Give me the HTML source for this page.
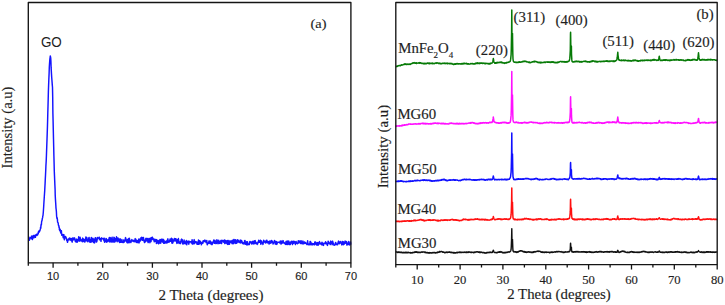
<!DOCTYPE html>
<html><head><meta charset="utf-8"><style>
html,body{margin:0;padding:0;background:#fff;}
body{width:725px;height:305px;overflow:hidden;}
svg{display:block;}
text{stroke:#1e1e1e;stroke-width:0.15px;}
.serif{font-family:"Liberation Serif",serif;}
.sans{font-family:"Liberation Sans",sans-serif;}
</style></head><body>
<svg width="725" height="305" viewBox="0 0 725 305">
<rect width="725" height="305" fill="#fff"/>
<path d="M28.5 237.3L28.8 237L29.1 238.3L29.4 240.2L29.7 238.6L30 239L30.3 237.9L30.6 237.7L30.9 237.6L31.2 237.3L31.5 236.1L31.8 238.8L32.1 237L32.4 239.5L32.7 237.9L33 235.7L33.3 236.2L33.6 235.5L33.9 237.8L34.2 235.4L34.5 236.5L34.8 235.8L35.1 235.3L35.4 237.3L35.7 235.6L36 234.9L36.2 234.4L36.4 234.6L36.6 234.2L36.8 235.3L37 235.4L37.2 234.8L37.5 234.9L37.7 234.8L37.9 234.1L38.1 232.7L38.3 233.5L38.5 231.5L38.7 232.3L38.9 231.1L39.1 232.1L39.3 231.7L39.5 230.5L39.7 230.8L39.9 230.9L40.1 229.9L40.4 228.7L40.6 227.2L40.8 228.2L41 225.1L41.2 224.3L41.4 224.8L41.6 221.8L41.8 221L42 220.7L42.2 219.4L42.4 218.2L42.6 217.7L42.8 216L43 215.5L43.3 212.2L43.5 209.2L43.7 206.2L43.9 202.7L44.1 199.8L44.3 196.7L44.5 193.7L44.7 190.9L44.9 186.9L45.1 183.4L45.3 178.9L45.5 175.3L45.7 171L45.9 166.2L46.2 161L46.4 156.2L46.6 150.5L46.8 145L47 139.6L47.2 133.9L47.4 128L47.6 120.9L47.8 113.1L48 106.2L48.2 98.9L48.4 91L48.6 85.4L48.8 80.2L49.1 73.4L49.3 67.2L49.5 64L49.7 61.2L49.9 58.9L50.1 57.6L50.3 55.9L50.5 56.8L50.7 57.8L50.9 61L51.1 67.4L51.3 70.8L51.5 74.1L51.7 77.3L51.9 79.8L52.1 82.4L52.3 85.1L52.5 87.2L52.7 96.8L52.9 113.4L53.1 121.5L53.3 130L53.5 138.8L53.7 147.1L53.9 155.8L54.1 163.5L54.3 171.3L54.5 175.9L54.7 180.6L54.9 185.2L55.1 189.8L55.2 194.6L55.4 198.6L55.6 201.6L55.8 204.7L56 208.1L56.2 209.7L56.4 211.7L56.6 216.1L56.8 217.5L57 218.5L57.2 217.8L57.4 219.1L57.6 222.3L57.8 222.3L58 222.6L58.2 223.2L58.4 225.1L58.6 225.4L58.8 225.6L59 227.5L59.2 227L59.4 229.6L59.6 228.4L59.8 230.8L60 229.6L60.3 229.7L60.7 233L61 232.2L61.4 230.8L61.7 235.3L62.1 234.4L62.5 235.1L62.8 234.6L63.2 237.7L63.5 237.1L63.9 234.6L64.3 239.7L64.6 238.5L65 237.4L65.3 236.4L65.7 236.8L66.1 237.6L66.4 238.7L66.8 240.5L67.1 239.2L67.5 242.3L67.9 240.6L68.2 239.9L68.6 239.6L68.9 238.4L69.3 239.9L69.7 238L70 238.4L70.4 239.5L70.7 240.2L71.1 238.6L71.5 240.8L71.8 238.9L72.2 242.1L72.5 237.9L72.9 240.3L73.3 239.1L73.6 239.7L74 237.8L74.3 239.1L74.7 238.2L75.1 240.9L75.4 241.4L75.8 241.4L76.1 242.1L76.5 239.1L76.9 240.5L77.2 242.2L77.6 239.5L77.9 239.6L78.3 240.3L78.7 236.8L79 241.3L79.4 238.9L79.7 240.8L80.1 237.3L80.5 239.3L80.8 239.7L81.2 240.9L81.5 239.9L81.9 240L82.3 241.7L82.6 238.1L83 239.1L83.3 241.5L83.7 239.1L84.1 239.9L84.4 239.4L84.8 242.1L85.1 240.4L85.5 241L85.9 236.9L86.2 238.9L86.6 240.8L86.9 237.6L87.3 241L87.7 241.8L88 240.9L88.4 240.7L88.7 238.3L89.1 237.4L89.5 242L89.8 239.2L90.2 242L90.5 240.7L90.9 242.3L91.3 237.4L91.6 241.7L92 241.4L92.3 240.5L92.7 238.3L93.1 238.5L93.4 242.5L93.8 239.6L94.1 241.6L94.5 242.9L94.9 238.7L95.2 237.9L95.6 237.7L95.9 239.9L96.3 242.1L96.7 241.9L97 240.7L97.4 237.5L97.7 238.7L98.1 238.1L98.5 238.1L98.8 237.9L99.2 237.2L99.5 239.8L99.9 238.9L100.3 238.9L100.6 238.4L101 241.3L101.3 238.6L101.7 237.8L102.1 238.6L102.4 238.4L102.8 239L103.1 239.2L103.5 238.5L103.9 240.7L104.2 238.1L104.6 242.3L104.9 242.1L105.3 240L105.7 241.3L106 238.4L106.4 238.8L106.7 242.2L107.1 239.8L107.5 241.2L107.8 241.6L108.2 240.9L108.5 239.6L108.9 239.2L109.3 237.5L109.6 241.9L110 241L110.3 237.6L110.7 241.8L111.1 238.8L111.4 242L111.8 238.1L112.1 237.3L112.5 241.9L112.9 242L113.2 239.7L113.6 241.9L113.9 237.3L114.3 237.6L114.7 242.1L115 241.8L115.4 240.5L115.7 238.6L116.1 240.7L116.5 236.8L116.8 238.9L117.2 241.7L117.5 238.4L117.9 237.9L118.3 240L118.6 241L119 239.1L119.3 241.9L119.7 242.5L120.1 238.8L120.4 239.8L120.8 242.3L121.1 240.6L121.5 241.9L121.9 239.5L122.2 242.3L122.6 242.4L122.9 242.1L123.3 242.6L123.7 239.9L124 240.5L124.4 242L124.7 241.5L125.1 240.4L125.5 237.6L125.8 238.5L126.2 239.8L126.5 241.4L126.9 242.3L127.3 242.8L127.6 239.5L128 242.8L128.3 239.6L128.7 238.6L129.1 242.8L129.4 238.3L129.8 240.4L130.1 242.1L130.5 241.3L130.9 242.5L131.2 240.8L131.6 240.2L131.9 239.6L132.3 241.1L132.7 240.8L133 240.4L133.4 241.4L133.7 240.4L134.1 241.4L134.5 240.3L134.8 241.7L135.2 238.6L135.5 239.5L135.9 239.2L136.3 242.3L136.6 240.7L137 242.6L137.3 240.5L137.7 242.6L138.1 241.5L138.4 242.4L138.8 239.1L139.1 242.9L139.5 239.1L139.9 241.5L140.2 240.8L140.6 239.3L140.9 237.9L141.3 237.6L141.7 237.3L142 240.3L142.4 240.3L142.7 237.9L143.1 237.5L143.5 237.5L143.8 240.6L144.2 241.6L144.5 242.5L144.9 240.3L145.3 241.8L145.6 239.1L146 238.2L146.3 241.1L146.7 239.7L147.1 240.1L147.4 238.5L147.8 241.6L148.1 242.6L148.5 241.7L148.9 238.4L149.2 239L149.6 238.5L149.9 242.7L150.3 239.4L150.7 238L151 241.6L151.4 238.3L151.7 237.5L152.1 239.1L152.5 237.3L152.8 239.6L153.2 239.5L153.5 238.9L153.9 240.3L154.3 241.7L154.6 239.4L155 239.2L155.3 241.3L155.7 240.3L156.1 239.6L156.4 243.5L156.8 239.7L157.1 240.8L157.5 240.4L157.9 243.2L158.2 242.5L158.6 243.8L158.9 240.4L159.3 243.3L159.7 242.4L160 239.4L160.4 240.1L160.7 243.2L161.1 240.9L161.5 239.4L161.8 239.2L162.2 240.1L162.5 242.1L162.9 239.3L163.3 239.5L163.6 243.3L164 240.1L164.3 242.4L164.7 243.3L165.1 242.9L165.4 242.3L165.8 241.3L166.1 242.7L166.5 240.9L166.9 243L167.2 242.6L167.6 239.4L167.9 238.8L168.3 242.3L168.7 241.2L169 241.8L169.4 242L169.7 240.8L170.1 239L170.5 241.3L170.8 239.7L171.2 240.7L171.5 238.2L171.9 243.1L172.3 239L172.6 243.2L173 242.2L173.3 240.1L173.7 241.1L174.1 239.4L174.4 238.4L174.8 240.9L175.1 238.7L175.5 239.3L175.9 238.7L176.2 241.3L176.6 241.9L176.9 243.4L177.3 239.7L177.7 242.7L178 241.4L178.4 238.5L178.7 240.3L179.1 243.5L179.5 242.3L179.8 242L180.2 242.2L180.5 243.6L180.9 241.5L181.3 239.5L181.6 239.1L182 241.8L182.3 239.8L182.7 243.8L183.1 244.1L183.4 242L183.8 242.3L184.1 240L184.5 243.6L184.9 241.8L185.2 243.5L185.6 242L185.9 243.9L186.3 240.5L186.7 244.8L187 243.4L187.4 241.6L187.7 241.9L188.1 240.9L188.5 242.3L188.8 244.2L189.2 242L189.5 241.3L189.9 241.9L190.3 241.7L190.6 241.7L191 242.2L191.3 243.1L191.7 243.1L192.1 239.7L192.4 244.1L192.8 241.2L193.1 241.6L193.5 242L193.9 243.9L194.2 239.6L194.6 243.5L194.9 242.7L195.3 242.1L195.7 241.5L196 242.2L196.4 243L196.7 241.9L197.1 244.3L197.5 242.6L197.8 242.1L198.2 244.3L198.5 240L198.9 244.3L199.3 242.3L199.6 240.7L200 243.4L200.3 241.2L200.7 242.4L201.1 242.7L201.4 244.8L201.8 243.4L202.1 242.2L202.5 243.2L202.9 243.2L203.2 240.7L203.6 241.9L203.9 240.8L204.3 240.5L204.7 241.5L205 240.1L205.4 240.8L205.7 240.8L206.1 242.5L206.5 242L206.8 240.5L207.2 244.7L207.5 243.5L207.9 243.2L208.3 243L208.6 243.4L209 240.9L209.3 243.4L209.7 241.7L210.1 240.9L210.4 241.3L210.8 243.9L211.1 241.9L211.5 244.1L211.9 244.7L212.2 244.4L212.6 242.2L212.9 242.5L213.3 242.6L213.7 240.1L214 243.1L214.4 243.2L214.7 240.2L215.1 240.8L215.5 242.2L215.8 243.6L216.2 240.9L216.5 243.4L216.9 239.7L217.3 242.1L217.6 241L218 243.7L218.3 240.7L218.7 240.3L219.1 241.7L219.4 243.4L219.8 243.3L220.1 241.4L220.5 243.1L220.9 240.4L221.2 241.7L221.6 243.5L221.9 240.2L222.3 240.6L222.7 241.1L223 240.5L223.4 242L223.7 241.5L224.1 242.4L224.5 239.9L224.8 243.6L225.2 241.8L225.5 240.4L225.9 243L226.3 241L226.6 241.2L227 243.7L227.3 240.5L227.7 244.4L228.1 241.2L228.4 242.8L228.8 240.5L229.1 244.4L229.5 244.1L229.9 242.7L230.2 240.9L230.6 241.3L230.9 242.2L231.3 240.9L231.7 242.2L232 243.6L232.4 240.2L232.7 240.7L233.1 243.8L233.5 243.2L233.8 239.5L234.2 239.7L234.5 242.1L234.9 242.9L235.3 243.5L235.6 239.8L236 241.4L236.3 241.6L236.7 243.2L237.1 241.7L237.4 239.8L237.8 240L238.1 241.9L238.5 240.5L238.9 242.2L239.2 242.5L239.6 242.2L239.9 242.5L240.3 240.1L240.7 243L241 240.2L241.4 242.2L241.7 240.7L242.1 241.8L242.5 243.5L242.8 243.7L243.2 243.9L243.5 243.1L243.9 242.5L244.3 243.7L244.6 240.6L245 240.5L245.3 244.3L245.7 243.6L246.1 242.5L246.4 241.8L246.8 244.9L247.1 241.7L247.5 241.9L247.9 244.8L248.2 243.9L248.6 244.3L248.9 244.5L249.3 244.6L249.7 242.1L250 241.4L250.4 242.7L250.7 242L251.1 241.8L251.5 242.8L251.8 244.1L252.2 242.7L252.5 241.8L252.9 241.2L253.3 243.9L253.6 243.1L254 241.3L254.3 243.7L254.7 240.7L255.1 240.6L255.4 241.5L255.8 243.5L256.1 242.4L256.5 243.1L256.9 244L257.2 244.4L257.6 243.8L257.9 242.1L258.3 242.6L258.7 240.3L259 240.7L259.4 242.2L259.7 241.7L260.1 242.5L260.5 240.3L260.8 244.3L261.2 242.3L261.5 241L261.9 242.9L262.3 242.7L262.6 243.2L263 244.4L263.3 242.1L263.7 240.3L264.1 241.2L264.4 242.1L264.8 241.4L265.1 242.4L265.5 243L265.9 242.5L266.2 240.4L266.6 240.3L266.9 240.2L267.3 242.9L267.7 241.7L268 242.2L268.4 241.6L268.7 242.9L269.1 244.1L269.5 242.6L269.8 240.9L270.2 243.2L270.5 241.1L270.9 243.1L271.3 242.7L271.6 240.4L272 241.2L272.3 241.3L272.7 242L273.1 244.1L273.4 243.3L273.8 242.3L274.1 242L274.5 240.4L274.9 241.2L275.2 244L275.6 242L275.9 241.6L276.3 244.4L276.7 241.6L277 244L277.4 242.4L277.7 242.4L278.1 242.3L278.5 242.1L278.8 242.1L279.2 242.2L279.5 242.9L279.9 242.8L280.3 241L280.6 242.4L281 244.1L281.3 243.7L281.7 241.1L282.1 241.3L282.4 243L282.8 243L283.1 240.6L283.5 241.7L283.9 242.6L284.2 243.3L284.6 242.9L284.9 243.3L285.3 244.3L285.7 244.4L286 241.6L286.4 244.4L286.7 241.7L287.1 240.9L287.5 244L287.8 244.6L288.2 241.2L288.5 243.9L288.9 241.1L289.3 244.5L289.6 242.6L290 242.7L290.3 244.5L290.7 242L291.1 243L291.4 241.2L291.8 241.6L292.1 243.1L292.5 244.6L292.9 242.5L293.2 241.1L293.6 242L293.9 243.2L294.3 241.4L294.7 241.7L295 242L295.4 244.5L295.7 242.8L296.1 241.5L296.5 243.1L296.8 243.2L297.2 243.3L297.5 243.7L297.9 242.9L298.3 240.7L298.6 242.9L299 242.9L299.3 242.4L299.7 240.9L300.1 241.1L300.4 242.9L300.8 243.5L301.1 240.7L301.5 243.6L301.9 242.3L302.2 243.1L302.6 243.8L302.9 241L303.3 243.7L303.7 243.8L304 242.7L304.4 241.9L304.7 243.2L305.1 243.2L305.5 242.5L305.8 242.9L306.2 243.7L306.5 243.9L306.9 244.5L307.3 244.6L307.6 240.7L308 244.3L308.3 244.2L308.7 244.7L309.1 243.9L309.4 244.5L309.8 244.8L310.1 241.4L310.5 241.4L310.9 243.3L311.2 244.8L311.6 243.3L311.9 243.3L312.3 244.8L312.7 243.8L313 244.8L313.4 243.9L313.7 243.6L314.1 243.6L314.5 244.8L314.8 242L315.2 242.9L315.5 241.9L315.9 244.2L316.3 243.1L316.6 245L317 242.7L317.3 245.1L317.7 242.6L318.1 245.2L318.4 245L318.8 242.5L319.1 243.5L319.5 241.6L319.9 243.9L320.2 244.1L320.6 243.3L320.9 243.2L321.3 243.5L321.7 244.7L322 242.3L322.4 244.9L322.7 244.4L323.1 243.1L323.5 245.4L323.8 243.8L324.2 243.5L324.5 243.5L324.9 242.8L325.3 243.5L325.6 241.7L326 243.8L326.3 242.7L326.7 244L327.1 243.8L327.4 245.4L327.8 244.3L328.1 241.3L328.5 241.8L328.9 243.2L329.2 243.3L329.6 242.9L329.9 243.9L330.3 244.6L330.7 241.1L331 243.3L331.4 241.9L331.7 242.3L332.1 244.7L332.5 241.1L332.8 241.8L333.2 243.1L333.5 244.2L333.9 245.1L334.3 245.2L334.6 245.1L335 244.5L335.3 243.2L335.7 242.4L336.1 244.7L336.4 244.2L336.8 244L337.1 244.2L337.5 244.7L337.9 243.2L338.2 242.1L338.6 241.1L338.9 242.1L339.3 243.8L339.7 242.7L340 242L340.4 241.8L340.7 241.4L341.1 243.5L341.5 243.8L341.8 244.9L342.2 244.1L342.5 241.5L342.9 241.7L343.3 244.7L343.6 241.9L344 242.9L344.3 244L344.7 243.4L345.1 241L345.4 242.8L345.8 243.1L346.1 243.3L346.5 241.6L346.9 245.1L347.2 243.3L347.6 244.1L347.9 244.4L348.3 242.4L348.7 241.4L349 243.7L349.4 244.9L349.7 244.8L350.1 244.7L350.5 241.9L350.8 244.6" fill="none" stroke="#1414ff" stroke-width="1.45" stroke-linejoin="round"/>
<rect x="28.3" y="2.5" width="322.6" height="260.3" fill="none" stroke="#141414" stroke-width="1.35" stroke-linejoin="round"/>
<path d="M28.3 262.8 V265.8M53.1 262.8 V267.8M77.9 262.8 V265.8M102.7 262.8 V267.8M127.6 262.8 V265.8M152.4 262.8 V267.8M177.2 262.8 V265.8M202 262.8 V267.8M226.8 262.8 V265.8M251.6 262.8 V267.8M276.5 262.8 V265.8M301.3 262.8 V267.8M326.1 262.8 V265.8M350.9 262.8 V267.8" stroke="#141414" stroke-width="1.3" fill="none"/>
<path d="M395.8 66.6L396.1 66.7L396.3 66.6L396.6 66.2L396.8 66.2L397.1 66.5L397.3 65.9L397.6 66.3L397.8 66.2L398.1 65.9L398.3 65.8L398.6 65.7L398.8 65.6L399.1 65.6L399.3 65.6L399.6 65.6L399.8 65.8L400.1 65.6L400.3 65.5L400.6 65.7L400.8 65.1L401.1 65L401.3 65.2L401.6 64.8L401.8 64.8L402.1 65L402.3 64.9L402.6 65.1L402.8 64.9L403.1 64.7L403.3 64.6L403.6 64.4L403.8 64.2L404.1 64.2L404.3 64.5L404.6 64.1L404.8 64.2L405.1 63.9L405.3 64.4L405.6 64L405.8 64L406.1 64.4L406.3 64.1L406.6 64.4L406.8 64.3L407.1 64.4L407.3 64L407.6 64.2L407.8 64.3L408.1 64.5L408.3 64.2L408.6 64.3L408.8 64L409.1 64.2L409.3 64.1L409.6 64L409.8 64.4L410.1 64.1L410.3 64.4L410.6 64.1L410.8 64L411.1 63.9L411.3 63.8L411.6 63.4L411.8 63.5L412.1 63.2L412.3 63.3L412.6 63L412.8 63.4L413.1 62.8L413.3 63L413.6 62.8L413.8 63.1L414.1 63L414.3 62.6L414.6 63.1L414.8 63.2L415.1 63.2L415.3 63L415.6 62.8L415.8 62.9L416.1 63.4L416.3 63.1L416.6 62.9L416.8 63.4L417.1 63.2L417.3 63.2L417.6 63L417.8 63L418.1 62.9L418.3 62.7L418.6 63.2L418.8 62.9L419.1 63L419.3 62.8L419.6 63.1L419.8 62.6L420.1 62.9L420.3 62.7L420.6 62.8L420.8 63.3L421.1 63.2L421.3 63.1L421.6 63.2L421.8 63.4L422.1 63.2L422.3 63.4L422.6 63.5L422.8 63.3L423.1 63.4L423.3 63.6L423.6 63.8L423.8 63.4L424.1 63.9L424.3 63.3L424.6 63.8L424.8 63.8L425.1 63.4L425.3 63.5L425.6 63.8L425.8 63.2L426.1 63.6L426.3 63.7L426.6 63.4L426.8 63.5L427.1 63.1L427.3 63.1L427.6 63.2L427.8 63L428.1 63.1L428.3 63.5L428.6 63.3L428.8 63.1L429.1 63.1L429.3 63.6L429.6 63.2L429.8 63.6L430.1 63.3L430.3 63.3L430.6 63.5L430.8 63.4L431.1 63.3L431.3 63.2L431.6 63.5L431.8 63.2L432.1 63.6L432.3 63L432.6 63.3L432.8 63.4L433.1 63.7L433.3 63.3L433.6 63.6L433.8 63.6L434.1 63.6L434.3 63.5L434.6 63.7L434.8 63.3L435.1 63.2L435.3 63.1L435.6 62.9L435.8 63L436.1 63.4L436.3 63.3L436.6 62.8L436.8 63.1L437.1 63L437.3 63.1L437.6 63.1L437.8 62.9L438.1 63.4L438.3 63.2L438.6 63.3L438.8 63.4L439.1 63.2L439.3 63.1L439.6 63.4L439.8 63.6L440.1 63.7L440.3 63.6L440.6 63.3L440.8 63.8L441.1 63.7L441.3 63.8L441.6 63.5L441.8 63.8L442.1 63.2L442.3 63.2L442.6 63.2L442.8 63.3L443.1 63.3L443.3 63.3L443.6 63.5L443.8 63.2L444.1 63.5L444.3 63.2L444.6 63.5L444.8 63.1L445.1 63.2L445.3 63.6L445.6 63.3L445.8 63.5L446.1 63.4L446.3 63.4L446.6 63.2L446.8 63.4L447.1 63.1L447.3 63.6L447.6 63.8L447.8 63.7L448.1 63.3L448.3 63.5L448.6 63.5L448.8 63.4L449.1 63.7L449.3 63.8L449.6 63.4L449.8 63.8L450.1 63.7L450.3 63.3L450.6 63.7L450.8 63.8L451.1 63.4L451.3 63.7L451.6 63.8L451.8 63.9L452.1 63.6L452.3 64L452.6 64.1L452.8 64.3L453.1 64.4L453.3 64.1L453.6 64.4L453.8 64.5L454.1 64.5L454.3 64.1L454.6 63.9L454.8 64.3L455.1 63.9L455.3 64.1L455.6 64.3L455.8 63.9L456.1 63.7L456.3 63.8L456.6 63.9L456.8 63.5L457.1 63.7L457.3 63.5L457.6 63.9L457.8 64L458.1 63.7L458.3 63.7L458.6 63.9L458.8 63.7L459.1 63.7L459.3 63.8L459.6 63.9L459.8 63.7L460.1 64.1L460.3 64L460.6 63.8L460.8 63.7L461.1 64.1L461.3 63.7L461.6 63.6L461.8 63.6L462.1 63.6L462.3 64L462.6 63.6L462.8 63.6L463.1 63.9L463.3 63.7L463.6 63.3L463.8 63.5L464.1 63.7L464.3 63.4L464.6 63.6L464.8 63.2L465.1 63.6L465.3 63.6L465.6 63.7L465.8 63.6L466.1 63.5L466.3 63.3L466.6 63.7L466.8 63.9L467.1 63.6L467.3 63.7L467.6 63.9L467.8 64.1L468.1 64.2L468.3 63.7L468.6 63.8L468.8 64.1L469.1 64L469.3 64L469.6 64.2L469.8 64.1L470.1 64L470.3 63.9L470.6 63.6L470.8 63.7L471.1 63.5L471.3 63.8L471.6 63.8L471.8 63.8L472.1 63.6L472.3 63.6L472.6 63.7L472.8 63.5L473.1 64L473.3 63.9L473.6 63.8L473.8 63.9L474.1 64L474.3 63.7L474.6 64L474.8 64L475.1 63.6L475.3 63.4L475.6 63.7L475.8 63.7L476.1 63.1L476.3 63.4L476.6 63.4L476.8 63.5L477.1 63L477.3 62.9L477.6 63.5L477.8 63L478.1 63L478.3 63.3L478.6 63.3L478.8 63.5L479.1 63.1L479.3 63.6L479.6 63.1L479.8 63.5L480.1 63L480.3 63.2L480.6 62.9L480.8 63L481.1 63L481.3 63.3L481.6 63.1L481.8 62.8L482.1 63.4L482.3 63.4L482.6 63.5L482.8 63.1L483.1 63.2L483.3 63.2L483.6 63.1L483.8 63.1L484.1 63.4L484.3 63.2L484.6 63.3L484.8 63.7L485.1 63.5L485.3 63.3L485.6 63.6L485.8 63.3L486.1 63.5L486.3 63.3L486.6 63.5L486.8 63.6L487.1 63.5L487.3 63.4L487.6 63.7L487.8 63.8L488.1 63.4L488.3 63.4L488.6 63.4L488.8 64L489.1 64L489.3 63.5L489.6 64L489.8 63.5L490.1 63.6L490.3 63.6L490.6 63.8L490.8 63.1L491.1 63.2L491.3 63.3L491.6 62.9L491.8 62.9L492.1 62.9L492.3 62.9L492.6 62.3L492.8 61.5L493.1 60.1L493.3 58.5L493.6 60L493.8 61.4L494.1 62.3L494.3 62.5L494.6 62.6L494.8 63.1L495.1 62.7L495.3 63.2L495.6 63L495.8 62.8L496.1 63.2L496.3 62.6L496.6 62.8L496.8 62.5L497.1 63L497.3 62.6L497.6 62.7L497.8 62.3L498.1 62.6L498.3 62.5L498.6 62.4L498.8 62.6L499.1 62.2L499.3 62.2L499.6 62.4L499.8 62.5L500.1 62.2L500.3 62.4L500.6 62.1L500.8 62.4L501.1 62.5L501.3 62.1L501.6 62.6L501.8 62.2L502.1 62.9L502.3 62.6L502.6 62.6L502.8 62.9L503.1 62.9L503.3 63L503.6 62.7L503.8 63.1L504.1 63.1L504.3 63.4L504.6 62.8L504.8 63.1L505.1 63.2L505.3 63.1L505.6 62.7L505.8 63L506.1 62.7L506.3 62.6L506.6 62.9L506.8 62.4L507.1 62.5L507.3 62.6L507.6 62.5L507.8 62.3L508.1 62.4L508.3 62.1L508.6 62.1L508.8 62.2L509.1 62.1L509.3 62L509.6 61.8L509.8 61.7L510.1 61.3L510.3 61L510.6 59.7L510.8 57.8L511.1 54.8L511.3 48.9L511.6 32.7L511.8 10L511.8 12.7L512 41.7L512.3 48.2L512.5 33.6L512.5 35.5L512.8 53.3L513 59L513.3 61L513.5 61.5L513.8 61.8L514 62.1L514.3 62.2L514.5 62.2L514.8 62.1L515 62L515.3 62.1L515.5 62.2L515.8 62.3L516 62.6L516.3 62.2L516.5 62.3L516.8 62.2L517 62.4L517.3 62.6L517.5 62.5L517.8 62.2L518 62.1L518.3 62.4L518.5 62.2L518.8 62.2L519 61.8L519.3 62.3L519.5 61.9L519.8 62L520 61.8L520.3 62L520.5 62.2L520.8 62.2L521 62L521.3 62.1L521.5 61.9L521.8 61.8L522 61.9L522.3 61.6L522.5 61.6L522.8 61.8L523 61.8L523.3 61.2L523.5 61.6L523.8 61.6L524 61.3L524.3 61.1L524.5 61.4L524.8 61.2L525 61.4L525.3 61.3L525.5 61.5L525.8 61.3L526 61.5L526.3 61.6L526.5 61.8L526.8 61.5L527 62.1L527.3 61.8L527.5 61.9L527.8 61.9L528 61.9L528.3 62.1L528.5 62.4L528.8 62.4L529 62.1L529.3 62.1L529.5 62.3L529.8 62.6L530 62.4L530.3 62.7L530.5 62.5L530.8 62.5L531 62.5L531.3 62.4L531.5 62.1L531.8 62L532 62.1L532.3 62L532.5 61.8L532.8 61.9L533 62L533.3 61.6L533.5 61.5L533.8 61.5L534 61.5L534.3 61.9L534.5 61.3L534.8 61.4L535 61.4L535.3 61.6L535.5 61.3L535.8 61.6L536 61.5L536.3 61.6L536.5 62L536.8 61.7L537 62L537.3 62L537.5 62.1L537.8 62.4L538 62.1L538.3 62.6L538.5 62.7L538.8 62.5L539 62.2L539.3 62.6L539.5 62.6L539.8 62.8L540 62.4L540.3 62.9L540.5 62.9L540.8 62.3L541 62.4L541.3 62.2L541.5 62.7L541.8 62.8L542 62.8L542.3 62.5L542.5 62.5L542.8 62.5L543 62.4L543.3 62.6L543.5 62.4L543.8 62.2L544 62.3L544.3 62L544.5 62.4L544.8 62.4L545 62.2L545.3 62.4L545.5 62.4L545.8 62.1L546 61.9L546.3 61.9L546.5 61.9L546.8 61.9L547 62L547.3 62.3L547.5 61.9L547.8 62.2L548 62.1L548.3 62.2L548.5 62L548.8 61.8L549 62.3L549.3 62L549.5 62L549.8 62.4L550 62.3L550.3 62L550.5 62L550.8 62.5L551 62L551.3 62.3L551.5 61.9L551.8 62.3L552 61.8L552.3 62.1L552.5 61.8L552.8 62.1L553 62.3L553.3 61.9L553.5 62.1L553.8 62.4L554 62.4L554.3 62.3L554.5 62.5L554.8 62.4L555 62.8L555.3 62.4L555.5 62.7L555.8 62.7L556 62.8L556.3 62.5L556.5 62.7L556.8 62.7L557 62.4L557.3 62.2L557.5 62.7L557.8 62.5L558 62.1L558.3 62.4L558.5 62L558.8 62.1L559 62.3L559.3 61.9L559.5 61.8L559.8 61.7L560 61.6L560.3 61.6L560.5 61.6L560.8 61.5L561 61.5L561.3 61.7L561.5 61.5L561.8 61.9L562 62L562.3 61.6L562.5 61.8L562.8 61.7L563 61.5L563.3 61.6L563.5 62L563.8 61.8L564 62L564.3 61.6L564.5 62L564.8 62.2L565 62.2L565.3 61.7L565.5 62L565.8 61.9L566 62.1L566.3 61.6L566.5 61.7L566.8 62L567 61.8L567.3 61.7L567.5 62L567.8 61.5L568 61.3L568.3 61.4L568.5 61.2L568.8 61L569 61.1L569.3 60.8L569.5 59.8L569.8 58.4L570 55.7L570.3 50.2L570.5 33.7L570.6 32.2L570.8 45.1L571 54.5L571.3 46.6L571.4 45.9L571.5 54.1L571.8 59.4L572 61.1L572.3 61.8L572.5 61.6L572.8 61.9L573 62.1L573.3 61.9L573.5 61.8L573.8 61.8L574 61.9L574.3 61.9L574.5 61.8L574.8 61.4L575 61.8L575.3 61.8L575.5 61.2L575.8 61.3L576 61.2L576.3 61.6L576.5 61.7L576.8 61.1L577 61.3L577.3 61.2L577.5 61.4L577.8 61.7L578 61.2L578.3 61.3L578.5 61.5L578.8 61.6L579 61.8L579.3 61.6L579.5 61.4L579.8 61.6L580 62.1L580.3 61.9L580.5 61.6L580.8 62L581 61.8L581.3 62L581.5 61.6L581.8 62.1L582 61.6L582.3 61.8L582.5 61.8L582.8 61.7L583 61.5L583.3 61.4L583.5 61.4L583.8 61.3L584 61.3L584.3 61.3L584.5 61.4L584.8 61.3L585 61.5L585.3 61.3L585.5 61.1L585.8 61.4L586 61.7L586.3 61.4L586.5 61.5L586.8 61.8L587 61.6L587.3 61.9L587.5 62L587.8 61.7L588 62L588.3 61.7L588.5 61.7L588.8 61.9L589 62L589.3 62.2L589.5 61.6L589.8 62L590 61.8L590.3 61.5L590.5 61.9L590.8 61.7L591 61.3L591.3 61.7L591.5 61.1L591.8 61L592 61.1L592.3 61.4L592.5 60.8L592.8 61.3L593 61.1L593.3 60.8L593.5 61.1L593.8 61.1L594 61.2L594.3 61.3L594.5 61.3L594.8 61.6L595 61.1L595.3 61.6L595.5 61.4L595.8 61.7L596 61.8L596.3 61.9L596.5 61.4L596.8 61.6L597 61.9L597.3 61.9L597.5 61.5L597.8 61.9L598 61.5L598.3 61.5L598.5 61.7L598.8 61.5L599 61.5L599.3 61.4L599.5 61.5L599.8 61.3L600 61.2L600.3 61.7L600.5 61.6L600.8 61.7L601 61.7L601.3 61.4L601.5 61.3L601.8 61.4L602 61.4L602.3 61.6L602.5 61.4L602.8 61.3L603 61.5L603.3 61.2L603.5 61.1L603.8 61.5L604 61.5L604.3 61.2L604.5 61.4L604.8 61L605 61.2L605.3 61.3L605.5 61.1L605.8 61.1L606 61.3L606.3 61.2L606.5 60.9L606.8 61.2L607 60.8L607.3 61.4L607.5 60.9L607.8 61L608 61L608.3 61.5L608.5 61.1L608.8 61.3L609 61.6L609.3 61.5L609.5 61L609.8 61.3L610 61.4L610.3 61.4L610.5 61.1L610.8 61.1L611 60.9L611.3 60.9L611.5 61.2L611.8 60.9L612 61L612.3 61.1L612.5 60.9L612.8 60.9L613 61.5L613.3 61.2L613.5 61.1L613.8 61.4L614 60.9L614.3 61.1L614.5 61.5L614.8 61.4L615 61.2L615.3 60.8L615.5 60.9L615.8 60.6L616 60.6L616.3 60.3L616.5 60.2L616.8 60L617 58.8L617.3 57.2L617.5 55L617.8 52.3L618 55L618.3 57L618.5 59L618.8 59.8L619 60.1L619.3 60.2L619.5 60L619.8 60.1L620 60.3L620.3 60.6L620.5 60.5L620.8 60.4L621 60.3L621.3 60.1L621.5 60.6L621.8 60.1L622 60.1L622.3 60.5L622.5 60.6L622.8 60.5L623 60.3L623.3 60.1L623.5 60.1L623.8 60.6L624 60.7L624.3 60.2L624.5 60.6L624.8 60.3L625 60.3L625.3 60.4L625.5 60.1L625.8 60.4L626 60.3L626.3 60.6L626.5 60.5L626.8 60.7L627 60.8L627.3 60.4L627.5 60.4L627.8 60.9L628 60.6L628.3 60.4L628.5 60.3L628.8 61L629 60.8L629.3 60.5L629.5 60.8L629.8 60.8L630 60.8L630.3 61.1L630.5 61.1L630.8 60.6L631 60.7L631.3 60.8L631.5 61.1L631.8 60.9L632 60.9L632.3 60.8L632.5 60.5L632.8 60.8L633 60.2L633.3 60.6L633.5 60.2L633.8 60.4L634 60.7L634.3 60.4L634.5 60.1L634.8 60.3L635 60.4L635.3 60.1L635.5 60.3L635.8 60.2L636 60.6L636.3 60.5L636.5 60.7L636.8 60.6L637 60.9L637.3 60.6L637.5 61.1L637.8 61.2L638 60.9L638.3 60.9L638.5 61.2L638.8 60.7L639 61.1L639.3 60.7L639.5 60.9L639.8 60.7L640 60.8L640.3 60.9L640.5 60.3L640.8 60.8L641 60.6L641.3 60.5L641.5 60.4L641.8 60.2L642 60.3L642.3 60.6L642.5 60.2L642.8 60.6L643 60.7L643.3 60.7L643.5 60.6L643.8 60.6L644 60.1L644.3 60.6L644.5 60.1L644.8 60.6L645 60.6L645.3 60.4L645.5 60.3L645.8 60.1L646 60.3L646.3 60.2L646.5 60.1L646.8 60.1L647 60.5L647.3 60.6L647.5 60.1L647.8 60L648 60.2L648.3 60.1L648.5 60.1L648.8 60.4L649 60.3L649.3 60.3L649.5 60.2L649.8 60.5L650 60.3L650.3 60.3L650.5 60.3L650.8 60.6L651 60.1L651.3 60.4L651.5 60.1L651.8 60.4L652 60L652.3 60L652.5 60.2L652.8 60L653 59.6L653.3 59.6L653.5 60.1L653.8 59.5L654 59.7L654.3 60.1L654.5 59.5L654.8 59.7L655 59.7L655.3 59.7L655.5 60L655.8 60.1L656 60L656.3 59.9L656.5 60.4L656.8 60.4L657 60.3L657.3 60L657.5 60.3L657.8 60.4L658 60.2L658.3 60.3L658.5 59.7L658.8 59.1L659 57.5L659.3 56.3L659.5 57.5L659.8 59.3L660 59.7L660.3 60.6L660.5 60.5L660.8 60.4L661 60.4L661.3 60.5L661.5 60.1L661.8 60.3L662 60.4L662.3 60.2L662.5 60.4L662.8 60.1L663 60L663.3 59.9L663.5 60.2L663.8 59.9L664 60.1L664.3 59.9L664.5 60.3L664.8 60.3L665 59.8L665.3 60.4L665.5 60.1L665.8 59.8L666 60.1L666.3 59.8L666.5 60.2L666.8 60L667 60.1L667.3 60.1L667.5 60.3L667.8 60.5L668 60.6L668.3 60.2L668.5 60.3L668.8 60L669 60.2L669.3 60.6L669.5 60.1L669.8 60.5L670 60.4L670.3 60.1L670.5 60.4L670.8 60.1L671 60.4L671.3 59.9L671.5 59.9L671.8 60.3L672 60.1L672.3 59.9L672.5 60L672.8 59.9L673 60L673.3 60.1L673.5 60.1L673.8 59.6L674 59.9L674.3 60.1L674.5 59.7L674.8 59.9L675 59.5L675.3 59.9L675.5 59.8L675.8 60L676 59.9L676.3 60L676.5 59.5L676.8 59.9L677 59.6L677.3 59.7L677.5 59.8L677.8 60L678 60L678.3 60.2L678.5 59.7L678.8 59.8L679 60L679.3 60.3L679.5 60.1L679.8 60.1L680 60.2L680.3 60.1L680.5 59.9L680.8 59.7L681 60L681.3 60.2L681.5 60L681.8 59.7L682 59.9L682.3 59.9L682.5 60L682.8 60.1L683 60.4L683.3 60L683.5 60.1L683.8 60.3L684 60.6L684.3 60.5L684.5 60.5L684.8 60.7L685 60.5L685.3 60.8L685.5 60.3L685.8 60.2L686 60.6L686.3 60.2L686.5 60.4L686.8 60.2L687 60.1L687.3 59.7L687.5 60.1L687.8 59.6L688 60.1L688.3 60.1L688.5 59.7L688.8 59.6L689 60.1L689.3 59.9L689.5 59.8L689.8 60.1L690 59.9L690.3 60L690.5 60.2L690.8 60.4L691 60.3L691.3 59.8L691.5 60L691.8 59.9L692 60.1L692.3 59.5L692.5 59.7L692.8 59.9L693 59.5L693.3 59.4L693.5 59.5L693.8 59.4L694 59.8L694.3 59.3L694.5 59.4L694.8 59.4L695 59.8L695.3 59.6L695.5 60.1L695.8 60.1L696 60.2L696.3 59.9L696.5 59.8L696.8 60L697 60.3L697.3 60.1L697.5 59.4L697.8 59L698 57.7L698.3 54.5L698.5 52.8L698.5 53L698.8 55.6L699 57.9L699.3 58.8L699.5 59.8L699.8 59.6L700 59.8L700.3 60.2L700.5 59.9L700.8 59.9L701 60.1L701.3 59.6L701.5 60.1L701.8 60L702 59.6L702.3 59.5L702.5 59.4L702.8 59.9L703 59.5L703.3 59.4L703.5 59.9L703.8 59.8L704 59.9L704.3 60L704.5 59.5L704.8 59.6L705 60L705.3 59.7L705.5 60L705.8 60.2L706 60.1L706.3 60.1L706.5 59.7L706.8 59.8L707 60.2L707.3 59.6L707.5 59.8L707.8 59.5L708 60L708.3 59.5L708.5 59.6L708.8 59.6L709 59.7L709.3 59.9L709.5 59.8L709.8 59.5L710 59.4L710.3 59.8L710.5 60L710.8 59.4L711 59.9L711.3 59.5L711.5 59.7L711.8 59.8L712 59.9L712.3 60.1L712.5 59.9L712.8 59.7L713 59.9L713.3 59.8L713.5 59.8L713.8 59.8L714 59.8L714.3 59.7L714.5 59.7L714.8 59.7L715 59.9L715.3 59.9L715.5 60.3L715.8 60.3L716 60L716.3 60.3L716.5 60.5L716.8 60.2L717 60.3" fill="none" stroke="#067a06" stroke-width="1.5" stroke-linejoin="round"/>
<path d="M395.8 126.4L396.1 126L396.3 126.4L396.6 126.1L396.8 125.9L397.1 125.8L397.3 125.9L397.6 126L397.8 126L398.1 126L398.3 126.1L398.6 126L398.8 125.7L399.1 125.8L399.3 126.2L399.6 125.6L399.8 126L400.1 125.8L400.3 125.9L400.6 125.7L400.8 125.7L401.1 125.7L401.3 125.9L401.6 125.5L401.8 125.3L402.1 125.2L402.3 125.7L402.6 125.3L402.8 125.1L403.1 125.4L403.3 125.5L403.6 125.3L403.8 125L404.1 125.1L404.3 124.9L404.6 124.7L404.8 125.3L405.1 124.9L405.3 124.7L405.6 125.1L405.8 125.1L406.1 125L406.3 124.6L406.6 124.5L406.8 124.7L407.1 124.7L407.3 124.8L407.6 124.8L407.8 124.7L408.1 124.3L408.3 124.4L408.6 124.1L408.8 124.3L409.1 124L409.3 124L409.6 123.9L409.8 124.1L410.1 124L410.3 124.3L410.6 123.9L410.8 123.9L411.1 124.2L411.3 124.3L411.6 124.3L411.8 124.3L412.1 124.3L412.3 124.2L412.6 124.3L412.8 123.9L413.1 123.9L413.3 124.2L413.6 123.9L413.8 124L414.1 123.8L414.3 123.9L414.6 124.1L414.8 124L415.1 123.8L415.3 123.7L415.6 124L415.8 123.9L416.1 123.8L416.3 124.1L416.6 123.9L416.8 124.1L417.1 123.9L417.3 124.1L417.6 123.9L417.8 124L418.1 124.1L418.3 123.6L418.6 123.9L418.8 123.9L419.1 123.6L419.3 124L419.6 123.9L419.8 124L420.1 123.6L420.3 123.7L420.6 123.9L420.8 123.5L421.1 123.7L421.3 123.4L421.6 123.4L421.8 123.3L422.1 123.3L422.3 123.4L422.6 123.2L422.8 123.7L423.1 123.8L423.3 123.3L423.6 123.3L423.8 123.3L424.1 123.9L424.3 123.4L424.6 123.8L424.8 123.6L425.1 123.5L425.3 123.6L425.6 123.9L425.8 123.4L426.1 124L426.3 123.8L426.6 123.6L426.8 123.5L427.1 123.8L427.3 123.8L427.6 123.6L427.8 123.6L428.1 123.7L428.3 124L428.6 123.7L428.8 123.9L429.1 123.8L429.3 123.8L429.6 123.7L429.8 123.9L430.1 123.7L430.3 123.9L430.6 123.5L430.8 123.6L431.1 123.9L431.3 123.6L431.6 123.9L431.8 123.9L432.1 123.7L432.3 123.3L432.6 123.7L432.8 123.6L433.1 123.3L433.3 123.6L433.6 123.4L433.8 123.1L434.1 123L434.3 123.1L434.6 123.3L434.8 123.4L435.1 122.9L435.3 122.9L435.6 123.2L435.8 123.1L436.1 123.1L436.3 123.4L436.6 123.5L436.8 123.5L437.1 123.4L437.3 123L437.6 123.1L437.8 123.4L438.1 123.7L438.3 123.1L438.6 123.4L438.8 123.4L439.1 123.4L439.3 123.3L439.6 123.3L439.8 123.3L440.1 123.2L440.3 123.5L440.6 123.5L440.8 123.7L441.1 123.6L441.3 123.8L441.6 123.4L441.8 123.7L442.1 123.4L442.3 123.6L442.6 123.8L442.8 123.5L443.1 123.6L443.3 123.7L443.6 123.4L443.8 123.7L444.1 123.4L444.3 123.5L444.6 123.8L444.8 124.1L445.1 124.1L445.3 123.6L445.6 123.6L445.8 123.8L446.1 123.8L446.3 123.8L446.6 124L446.8 123.9L447.1 123.8L447.3 123.9L447.6 123.8L447.8 123.9L448.1 124L448.3 124L448.6 124L448.8 123.9L449.1 123.4L449.3 123.5L449.6 123.7L449.8 123.3L450.1 123.5L450.3 123.1L450.6 123.2L450.8 123.3L451.1 123L451.3 123.3L451.6 123.1L451.8 123.5L452.1 123.2L452.3 123.3L452.6 123.6L452.8 123.5L453.1 123.3L453.3 123.4L453.6 123.7L453.8 123.5L454.1 123.5L454.3 123.8L454.6 123.8L454.8 123.6L455.1 123.8L455.3 123.9L455.6 123.5L455.8 123.6L456.1 123.6L456.3 123.9L456.6 123.4L456.8 123.6L457.1 123.5L457.3 123.8L457.6 123.9L457.8 123.4L458.1 123.9L458.3 123.8L458.6 123.5L458.8 124L459.1 123.6L459.3 123.9L459.6 123.4L459.8 123.7L460.1 123.7L460.3 123.9L460.6 123.8L460.8 123.6L461.1 123.3L461.3 123.5L461.6 123.5L461.8 123.9L462.1 123.7L462.3 123.5L462.6 123.6L462.8 123.8L463.1 123.4L463.3 123.9L463.6 123.8L463.8 123.7L464.1 123.9L464.3 123.7L464.6 123.5L464.8 123.6L465.1 123.4L465.3 123.4L465.6 123.5L465.8 123.7L466.1 123.3L466.3 123.5L466.6 123.7L466.8 123.6L467.1 123.6L467.3 123.4L467.6 123.4L467.8 123.3L468.1 123.3L468.3 123.2L468.6 123.1L468.8 123L469.1 122.9L469.3 123L469.6 123.2L469.8 123.1L470.1 122.7L470.3 123.1L470.6 122.6L470.8 123.1L471.1 122.9L471.3 122.8L471.6 122.7L471.8 123L472.1 122.4L472.3 122.5L472.6 122.8L472.8 122.7L473.1 122.8L473.3 122.9L473.6 122.7L473.8 123.3L474.1 123.2L474.3 122.9L474.6 123.4L474.8 123.3L475.1 123.4L475.3 123.5L475.6 123.7L475.8 123.2L476.1 123.8L476.3 123.5L476.6 123.4L476.8 123.5L477.1 123.5L477.3 123.9L477.6 123.6L477.8 123.3L478.1 123.7L478.3 123.6L478.6 123.7L478.8 123.2L479.1 123.7L479.3 123.6L479.6 123L479.8 123.3L480.1 123L480.3 123.2L480.6 122.9L480.8 123.4L481.1 122.9L481.3 123.2L481.6 123.1L481.8 122.9L482.1 122.8L482.3 123.2L482.6 122.7L482.8 122.8L483.1 122.8L483.3 123L483.6 122.8L483.8 122.6L484.1 122.9L484.3 123L484.6 123L484.8 122.8L485.1 122.7L485.3 122.5L485.6 122.8L485.8 122.9L486.1 122.8L486.3 123.1L486.6 122.7L486.8 123.1L487.1 123.1L487.3 123.1L487.6 123.1L487.8 122.7L488.1 123.1L488.3 122.7L488.6 122.9L488.8 123L489.1 122.7L489.3 122.6L489.6 122.2L489.8 122.5L490.1 122.2L490.3 122.3L490.6 122.3L490.8 122.6L491.1 122.4L491.3 122.5L491.6 122.1L491.8 122.1L492.1 122.4L492.3 121.6L492.6 121.6L492.8 120.2L493.1 118.9L493.3 117.1L493.6 118.9L493.8 120.2L494.1 121.3L494.3 122.1L494.6 122.1L494.8 122.1L495.1 122.4L495.3 122.2L495.6 122.5L495.8 122.6L496.1 122.8L496.3 122.5L496.6 122.7L496.8 123L497.1 122.8L497.3 123.1L497.6 123.1L497.8 122.7L498.1 122.9L498.3 123.2L498.6 123L498.8 123.1L499.1 123.3L499.3 123.1L499.6 123L499.8 123.2L500.1 122.9L500.3 122.6L500.6 122.7L500.8 122.9L501.1 123.1L501.3 122.8L501.6 122.6L501.8 123L502.1 122.6L502.3 122.4L502.6 122.6L502.8 122.4L503.1 122.2L503.3 122.6L503.6 122.6L503.8 122.8L504.1 122.2L504.3 122.7L504.6 122.7L504.8 122.4L505.1 122.6L505.3 122.7L505.6 122.5L505.8 122.4L506.1 122.9L506.3 122.6L506.6 122.8L506.8 122.8L507.1 123.2L507.3 123L507.6 122.9L507.8 123.3L508.1 122.9L508.3 123.1L508.6 122.8L508.8 123.1L509.1 123L509.3 123L509.6 122.7L509.8 122.4L510.1 122.4L510.3 121.9L510.6 120.5L510.8 118.4L511.1 115.4L511.3 110.2L511.6 93.7L511.8 71.4L511.8 74L512 102.6L512.3 108.9L512.5 95L512.5 96.6L512.8 114.4L513 119.9L513.3 121.3L513.5 122L513.8 122.2L514 122.1L514.3 122.5L514.5 122.4L514.8 122.4L515 122.7L515.3 122.4L515.5 122.2L515.8 122.5L516 122.4L516.3 122.1L516.5 122.3L516.8 122.5L517 122.3L517.3 122.8L517.5 122.7L517.8 122.5L518 122.8L518.3 122.4L518.5 122.5L518.8 123L519 122.9L519.3 122.7L519.5 123L519.8 123.1L520 123.1L520.3 122.8L520.5 122.8L520.8 123L521 122.8L521.3 122.8L521.5 123.1L521.8 122.9L522 122.6L522.3 123.1L522.5 122.7L522.8 123L523 122.7L523.3 122.7L523.5 122.5L523.8 122.6L524 122.4L524.3 122.3L524.5 122.7L524.8 122.3L525 122.5L525.3 122.8L525.5 122.6L525.8 122.6L526 123L526.3 122.6L526.5 122.6L526.8 123L527 122.7L527.3 122.7L527.5 123L527.8 122.6L528 123L528.3 122.8L528.5 122.8L528.8 122.3L529 122.3L529.3 122.5L529.5 122.5L529.8 122.1L530 122.1L530.3 122.1L530.5 122L530.8 122.2L531 122.2L531.3 122.3L531.5 122L531.8 122.1L532 122.1L532.3 122.2L532.5 122.2L532.8 122.7L533 122.4L533.3 122.2L533.5 122.6L533.8 122.8L534 122.7L534.3 122.6L534.5 122.5L534.8 122.5L535 122.4L535.3 122.7L535.5 122.7L535.8 122.6L536 122.8L536.3 122.7L536.5 122.8L536.8 122.6L537 122.6L537.3 122.6L537.5 123.1L537.8 123.1L538 123.2L538.3 123.2L538.5 123.3L538.8 123.1L539 123.4L539.3 123L539.5 123.3L539.8 123L540 123.6L540.3 123.6L540.5 123.1L540.8 123.5L541 123.5L541.3 123.1L541.5 123.4L541.8 123.3L542 123.4L542.3 123.5L542.5 123.4L542.8 123L543 123.2L543.3 123.2L543.5 122.8L543.8 122.8L544 122.8L544.3 122.6L544.5 122.6L544.8 122.8L545 123L545.3 122.6L545.5 122.7L545.8 122.7L546 122.7L546.3 122.7L546.5 122.3L546.8 122.8L547 122.4L547.3 122.4L547.5 122.6L547.8 122.7L548 122.8L548.3 122.5L548.5 122.9L548.8 122.7L549 122.8L549.3 122.5L549.5 122.3L549.8 122.2L550 122.6L550.3 122.4L550.5 122.4L550.8 122.3L551 122.3L551.3 122.5L551.5 122.3L551.8 122.8L552 122.4L552.3 122.8L552.5 122.8L552.8 122.5L553 122.8L553.3 122.7L553.5 122.6L553.8 122.8L554 122.9L554.3 122.5L554.5 123L554.8 122.5L555 122.5L555.3 122.8L555.5 122.7L555.8 122.8L556 122.8L556.3 122.8L556.5 123.1L556.8 123.1L557 122.8L557.3 122.8L557.5 123L557.8 122.7L558 122.8L558.3 123L558.5 122.6L558.8 123.1L559 123.1L559.3 122.9L559.5 122.8L559.8 123L560 122.8L560.3 123.1L560.5 123L560.8 122.8L561 123.1L561.3 122.9L561.5 122.6L561.8 122.8L562 122.9L562.3 123.1L562.5 122.7L562.8 122.8L563 123.1L563.3 122.8L563.5 123L563.8 122.6L564 122.7L564.3 122.6L564.5 123L564.8 122.7L565 122.5L565.3 122.4L565.5 122.5L565.8 122.3L566 122.5L566.3 122.7L566.5 122.4L566.8 122.3L567 122.4L567.3 122.3L567.5 122.7L567.8 122.3L568 122.7L568.3 122.4L568.5 122.6L568.8 122.5L569 121.9L569.3 121.9L569.5 121.3L569.8 119.7L570 117.6L570.3 112.3L570.5 98.1L570.6 96.7L570.8 108L571 116L571.3 109.2L571.4 108.5L571.5 115.9L571.8 120.5L572 122.2L572.3 122.6L572.5 122.9L572.8 122.8L573 122.9L573.3 123.1L573.5 122.5L573.8 122.8L574 122.5L574.3 122.9L574.5 122.5L574.8 122.9L575 122.6L575.3 122.8L575.5 122.8L575.8 122.9L576 122.9L576.3 122.6L576.5 122.8L576.8 122.4L577 122.4L577.3 122.7L577.5 122.8L577.8 122.7L578 122.4L578.3 122.5L578.5 122.5L578.8 122.3L579 122.2L579.3 122.5L579.5 122.2L579.8 122.5L580 122.4L580.3 122.5L580.5 122.5L580.8 122.7L581 122.7L581.3 122.5L581.5 122.5L581.8 122.8L582 123L582.3 122.8L582.5 122.5L582.8 122.6L583 122.9L583.3 123.1L583.5 123.2L583.8 122.9L584 123L584.3 123L584.5 122.8L584.8 122.7L585 123L585.3 123L585.5 123.2L585.8 122.7L586 123.1L586.3 122.7L586.5 122.8L586.8 122.9L587 122.5L587.3 122.9L587.5 122.9L587.8 122.8L588 122.2L588.3 122.5L588.5 122.5L588.8 122.6L589 122.2L589.3 122.1L589.5 122.6L589.8 122.2L590 122.1L590.3 122.2L590.5 122.5L590.8 122.5L591 122.7L591.3 122.8L591.5 122.3L591.8 123L592 123L592.3 123.1L592.5 123L592.8 122.8L593 122.8L593.3 123.3L593.5 123L593.8 123L594 123.2L594.3 123.2L594.5 123.2L594.8 123.2L595 123.1L595.3 123.3L595.5 123L595.8 122.8L596 123.2L596.3 123.1L596.5 123L596.8 122.6L597 122.5L597.3 123L597.5 123L597.8 122.5L598 122.7L598.3 122.3L598.5 122.5L598.8 122.7L599 122.6L599.3 122.9L599.5 123L599.8 122.5L600 122.9L600.3 122.8L600.5 122.7L600.8 122.8L601 122.9L601.3 123.2L601.5 123.2L601.8 122.7L602 122.8L602.3 123.4L602.5 123.1L602.8 123.1L603 123L603.3 123.3L603.5 123.1L603.8 123.1L604 122.8L604.3 123.1L604.5 122.7L604.8 122.6L605 122.8L605.3 122.9L605.5 122.5L605.8 122.4L606 122.3L606.3 122.5L606.5 122.5L606.8 122.1L607 122.3L607.3 122.3L607.5 122L607.8 122.3L608 122.1L608.3 122.1L608.5 122.6L608.8 122L609 122.2L609.3 122.4L609.5 122.3L609.8 122.1L610 122.6L610.3 122.2L610.5 122.3L610.8 122.6L611 122.6L611.3 122.5L611.5 122.2L611.8 122.4L612 122.4L612.3 122L612.5 122.5L612.8 121.9L613 122.3L613.3 122L613.5 122L613.8 122L614 122.5L614.3 122L614.5 122.5L614.8 122.1L615 122.3L615.3 122.2L615.5 122.7L615.8 122.2L616 122.7L616.3 122.3L616.5 122.7L616.8 122.3L617 121.5L617.3 120.6L617.5 118.8L617.8 117L618 118.8L618.3 120.7L618.5 121.7L618.8 122.1L619 122.2L619.3 122.9L619.5 122.5L619.8 122.7L620 122.5L620.3 122.8L620.5 122.8L620.8 122.9L621 122.8L621.3 122.8L621.5 123.1L621.8 122.8L622 122.8L622.3 122.9L622.5 122.7L622.8 123L623 122.6L623.3 122.7L623.5 122.8L623.8 122.7L624 123.1L624.3 122.8L624.5 122.9L624.8 122.9L625 123.2L625.3 122.8L625.5 123.3L625.8 123.4L626 123L626.3 122.9L626.5 123.3L626.8 123L627 123L627.3 122.9L627.5 123.2L627.8 123.5L628 123.4L628.3 123.2L628.5 123.1L628.8 123.5L629 123.3L629.3 123.5L629.5 123.3L629.8 123.3L630 123.3L630.3 123L630.5 123L630.8 122.9L631 123.4L631.3 123.4L631.5 123.2L631.8 122.8L632 122.8L632.3 122.9L632.5 122.9L632.8 122.7L633 122.6L633.3 122.9L633.5 122.9L633.8 122.5L634 122.6L634.3 122.5L634.5 122.7L634.8 122.7L635 122.6L635.3 122.9L635.5 122.6L635.8 122.5L636 122.8L636.3 122.8L636.5 122.9L636.8 122.4L637 122.5L637.3 122.6L637.5 123L637.8 122.8L638 122.8L638.3 122.6L638.5 123L638.8 122.5L639 122.7L639.3 122.8L639.5 122.8L639.8 122.8L640 122.6L640.3 122.5L640.5 122.9L640.8 122.7L641 122.5L641.3 122.5L641.5 123L641.8 123.1L642 123L642.3 122.9L642.5 123.1L642.8 123.4L643 123.1L643.3 123.3L643.5 123.4L643.8 123.3L644 123.1L644.3 122.9L644.5 123.2L644.8 123.2L645 123.3L645.3 122.8L645.5 122.7L645.8 123L646 123.2L646.3 122.7L646.5 123.1L646.8 122.9L647 123.4L647.3 123L647.5 122.9L647.8 123.3L648 123L648.3 123.1L648.5 123L648.8 123.1L649 123L649.3 123.1L649.5 123.3L649.8 123.1L650 123.3L650.3 123.5L650.5 123.3L650.8 122.9L651 123.5L651.3 123.1L651.5 123.2L651.8 123.3L652 123.3L652.3 123.1L652.5 123.1L652.8 123.2L653 123.1L653.3 122.9L653.5 123L653.8 122.9L654 122.8L654.3 122.9L654.5 122.9L654.8 122.7L655 122.9L655.3 123L655.5 122.9L655.8 122.7L656 123.1L656.3 122.6L656.5 123.1L656.8 122.8L657 122.8L657.3 123.1L657.5 123L657.8 123.2L658 123.1L658.3 122.6L658.5 122.6L658.8 122.3L659 121.2L659.3 120.5L659.5 121.2L659.8 122L660 122.3L660.3 122.6L660.5 122.7L660.8 122.7L661 122.8L661.3 123L661.5 122.8L661.8 122.8L662 122.5L662.3 122.5L662.5 123L662.8 122.6L663 123L663.3 122.6L663.5 122.7L663.8 122.8L664 122.4L664.3 122.4L664.5 122.6L664.8 122.3L665 122.4L665.3 122.3L665.5 122.4L665.8 122.5L666 122.4L666.3 122.4L666.5 122.4L666.8 122.5L667 122.1L667.3 122.7L667.5 122.4L667.8 122.7L668 122.1L668.3 122.1L668.5 122.1L668.8 122.7L669 122.4L669.3 122.7L669.5 122.6L669.8 122.2L670 122.4L670.3 122.4L670.5 122.5L670.8 122.8L671 122.4L671.3 122.9L671.5 122.7L671.8 122.6L672 122.9L672.3 122.7L672.5 123L672.8 122.9L673 122.9L673.3 122.8L673.5 122.8L673.8 123.3L674 123.1L674.3 123L674.5 123.3L674.8 123.4L675 122.9L675.3 123.4L675.5 122.8L675.8 123.1L676 122.9L676.3 122.9L676.5 123L676.8 123L677 122.9L677.3 123L677.5 123.2L677.8 122.6L678 122.7L678.3 122.9L678.5 122.8L678.8 122.7L679 122.9L679.3 123L679.5 123.2L679.8 123.2L680 123.2L680.3 122.9L680.5 123.2L680.8 123.1L681 122.8L681.3 123.2L681.5 122.8L681.8 123L682 123L682.3 123.1L682.5 122.9L682.8 123L683 122.4L683.3 122.4L683.5 122.4L683.8 122.6L684 122.5L684.3 122.2L684.5 122.3L684.8 122.5L685 122.4L685.3 122.6L685.5 122.5L685.8 122.8L686 122.7L686.3 122.6L686.5 122.6L686.8 122.5L687 122.6L687.3 122.8L687.5 122.8L687.8 122.8L688 123L688.3 122.8L688.5 123.4L688.8 123.2L689 123L689.3 123.2L689.5 123.2L689.8 123.1L690 123.4L690.3 123.2L690.5 123.2L690.8 123.5L691 123.4L691.3 123.5L691.5 123.4L691.8 123.4L692 123.3L692.3 123.3L692.5 123.3L692.8 123.2L693 123.5L693.3 123.1L693.5 123L693.8 123L694 123.3L694.3 123.2L694.5 123L694.8 122.8L695 123L695.3 123.1L695.5 122.6L695.8 122.9L696 122.9L696.3 122.6L696.5 122.5L696.8 122.7L697 122.4L697.3 122.5L697.5 122.4L697.8 122.2L698 120.8L698.3 119.4L698.5 118.4L698.5 118.5L698.8 120.1L699 121.7L699.3 122.1L699.5 122.8L699.8 122.7L700 123.1L700.3 122.9L700.5 123.1L700.8 122.8L701 122.6L701.3 122.7L701.5 122.7L701.8 122.5L702 122.5L702.3 122.7L702.5 122.5L702.8 122.8L703 122.5L703.3 122.5L703.5 122.6L703.8 122.7L704 122.6L704.3 122.3L704.5 122.6L704.8 122.3L705 122.8L705.3 122.5L705.5 122.8L705.8 122.6L706 123.1L706.3 122.7L706.5 123.1L706.8 123.1L707 122.9L707.3 123.1L707.5 122.9L707.8 122.9L708 122.9L708.3 122.7L708.5 123.1L708.8 122.6L709 122.6L709.3 122.5L709.5 122.9L709.8 122.7L710 122.6L710.3 122.6L710.5 122.7L710.8 122.5L711 122.5L711.3 122.3L711.5 122.5L711.8 122.8L712 122.6L712.3 122.5L712.5 122.8L712.8 122.3L713 122.4L713.3 122.9L713.5 123L713.8 122.4L714 122.4L714.3 122.4L714.5 122.7L714.8 122.4L715 122.6L715.3 122.6L715.5 122.1L715.8 122.6L716 122.1L716.3 122.3L716.5 122.2L716.8 122.1L717 122.2" fill="none" stroke="#ff10ff" stroke-width="1.5" stroke-linejoin="round"/>
<path d="M395.8 181.9L396.1 181.4L396.3 181.6L396.6 181.6L396.8 181.6L397.1 181.2L397.3 181.5L397.6 181.6L397.8 181.4L398.1 181.1L398.3 181.5L398.6 181L398.8 181L399.1 181.4L399.3 181.2L399.6 181L399.8 181.3L400.1 181.1L400.3 180.8L400.6 180.9L400.8 181.3L401.1 181.3L401.3 180.8L401.6 181.1L401.8 181.3L402.1 181.1L402.3 181L402.6 181.2L402.8 181.6L403.1 181.6L403.3 181.3L403.6 181.7L403.8 181.7L404.1 181.5L404.3 181.5L404.6 181.4L404.8 181.6L405.1 181.5L405.3 181.5L405.6 181.8L405.8 181.7L406.1 181.5L406.3 181.8L406.6 181.5L406.8 181.7L407.1 181.5L407.3 181.4L407.6 181.4L407.8 181.4L408.1 181.4L408.3 181.5L408.6 181.1L408.8 181.1L409.1 181.1L409.3 181.5L409.6 181.5L409.8 181.2L410.1 181.1L410.3 180.9L410.6 181.4L410.8 181.2L411.1 181.3L411.3 181.1L411.6 181L411.8 181.1L412.1 181.2L412.3 181.2L412.6 180.8L412.8 180.9L413.1 181.2L413.3 180.9L413.6 181L413.8 180.9L414.1 181L414.3 180.5L414.6 180.4L414.8 180.5L415.1 180.6L415.3 180.5L415.6 180.9L415.8 180.9L416.1 180.3L416.3 180.7L416.6 180.5L416.8 180.7L417.1 180.4L417.3 180.7L417.6 180.2L417.8 180.5L418.1 180.4L418.3 180.4L418.6 180.4L418.8 180.5L419.1 180.6L419.3 180.6L419.6 180.7L419.8 180.8L420.1 180.8L420.3 180.6L420.6 180.3L420.8 180.5L421.1 180.4L421.3 180.3L421.6 180.3L421.8 180.2L422.1 180.3L422.3 180L422.6 180.3L422.8 180.2L423.1 179.9L423.3 180.1L423.6 180.5L423.8 180.2L424.1 179.9L424.3 180.2L424.6 180.3L424.8 179.9L425.1 180.1L425.3 180.1L425.6 180.3L425.8 180.5L426.1 180.1L426.3 180.1L426.6 180.1L426.8 180.4L427.1 180.1L427.3 180.3L427.6 180.5L427.8 180.5L428.1 180.5L428.3 180.1L428.6 180.3L428.8 180.2L429.1 180.4L429.3 180.2L429.6 180.2L429.8 180.8L430.1 180.8L430.3 180.4L430.6 180.9L430.8 180.5L431.1 180.7L431.3 181.2L431.6 181.2L431.8 180.9L432.1 181.1L432.3 180.9L432.6 181.2L432.8 180.9L433.1 180.9L433.3 180.8L433.6 181.1L433.8 181L434.1 181.2L434.3 180.7L434.6 181L434.8 181.1L435.1 180.9L435.3 180.5L435.6 180.5L435.8 180.5L436.1 180.6L436.3 180.9L436.6 180.5L436.8 180.6L437.1 180.3L437.3 180.7L437.6 180.3L437.8 180.8L438.1 180.6L438.3 180.3L438.6 180.6L438.8 180.3L439.1 180.4L439.3 180.4L439.6 180.2L439.8 180.2L440.1 180.4L440.3 180.4L440.6 180.3L440.8 180.1L441.1 180.3L441.3 179.8L441.6 180.2L441.8 179.6L442.1 180L442.3 179.9L442.6 179.6L442.8 179.8L443.1 179.9L443.3 179.4L443.6 179.7L443.8 179.3L444.1 179.7L444.3 179.4L444.6 179.8L444.8 179.5L445.1 179.9L445.3 180.3L445.6 180L445.8 180.5L446.1 180.3L446.3 180.1L446.6 180.7L446.8 180.2L447.1 180.5L447.3 180.7L447.6 180.7L447.8 180.5L448.1 180.2L448.3 180.4L448.6 180.2L448.8 180.2L449.1 180.1L449.3 180L449.6 179.9L449.8 180.3L450.1 179.8L450.3 180.2L450.6 180L450.8 180.2L451.1 180.1L451.3 180L451.6 180.1L451.8 180L452.1 180.2L452.3 179.9L452.6 180.1L452.8 180.1L453.1 180L453.3 179.7L453.6 179.9L453.8 179.6L454.1 180.1L454.3 180L454.6 180.2L454.8 179.7L455.1 179.8L455.3 180.1L455.6 180.3L455.8 179.9L456.1 179.9L456.3 180.1L456.6 180.1L456.8 180L457.1 180L457.3 180.2L457.6 180.1L457.8 180.2L458.1 180.2L458.3 180.5L458.6 180.7L458.8 180.7L459.1 180.7L459.3 180.6L459.6 180.4L459.8 180.3L460.1 180.3L460.3 180.7L460.6 180.6L460.8 180.3L461.1 180.3L461.3 180.3L461.6 180.2L461.8 179.8L462.1 180L462.3 179.9L462.6 179.6L462.8 179.5L463.1 179.4L463.3 179.6L463.6 179.8L463.8 179.7L464.1 179.3L464.3 179.3L464.6 179.4L464.8 179.3L465.1 179.3L465.3 179.6L465.6 179.4L465.8 179.6L466.1 179.4L466.3 179.8L466.6 179.6L466.8 179.3L467.1 179.7L467.3 179.4L467.6 179.5L467.8 179.4L468.1 179.5L468.3 179.4L468.6 179.4L468.8 179.3L469.1 179.8L469.3 179.3L469.6 179.4L469.8 179.5L470.1 179.3L470.3 179.5L470.6 179.6L470.8 179.8L471.1 179.8L471.3 179.7L471.6 180L471.8 180L472.1 179.8L472.3 179.8L472.6 180L472.8 179.9L473.1 180.2L473.3 179.7L473.6 180L473.8 179.9L474.1 179.8L474.3 180.2L474.6 179.8L474.8 180.2L475.1 180.2L475.3 180.3L475.6 179.7L475.8 179.7L476.1 179.7L476.3 179.8L476.6 180.2L476.8 180L477.1 179.7L477.3 179.7L477.6 180.1L477.8 180L478.1 179.6L478.3 179.9L478.6 179.7L478.8 179.7L479.1 179.5L479.3 180L479.6 179.7L479.8 179.7L480.1 179.4L480.3 179.4L480.6 179.6L480.8 179.6L481.1 179.7L481.3 179.2L481.6 179.2L481.8 179.3L482.1 179.3L482.3 179.6L482.6 179.4L482.8 179.5L483.1 179.6L483.3 179.7L483.6 179.6L483.8 179.4L484.1 180L484.3 179.6L484.6 180.1L484.8 179.8L485.1 179.8L485.3 179.9L485.6 180.2L485.8 179.8L486.1 179.8L486.3 179.7L486.6 179.5L486.8 179.6L487.1 180L487.3 179.9L487.6 179.5L487.8 179.9L488.1 179.3L488.3 179.7L488.6 179.2L488.8 179.5L489.1 179.4L489.3 179.4L489.6 179.8L489.8 179.4L490.1 179.2L490.3 179.2L490.6 179.6L490.8 179.3L491.1 179.2L491.3 179.3L491.6 179.8L491.8 179.4L492.1 179.2L492.3 179.4L492.6 178.9L492.8 178.3L493.1 177.1L493.3 175.9L493.6 177.1L493.8 178.6L494.1 179L494.3 179.3L494.6 179.8L494.8 179.9L495.1 179.8L495.3 179.6L495.6 179.6L495.8 179.3L496.1 179.5L496.3 179.8L496.6 179.6L496.8 179.8L497.1 179.7L497.3 179.6L497.6 179.7L497.8 179.5L498.1 179.6L498.3 179.5L498.6 179.4L498.8 179.7L499.1 179.3L499.3 179.8L499.6 179.8L499.8 179.7L500.1 179.5L500.3 179.5L500.6 179.5L500.8 179.5L501.1 179.3L501.3 179.7L501.6 179.7L501.8 179.4L502.1 179.6L502.3 179.3L502.6 179.6L502.8 179.7L503.1 179.5L503.3 179.7L503.6 179.6L503.8 179.6L504.1 179.5L504.3 179.2L504.6 179.3L504.8 179.7L505.1 179.4L505.3 179.7L505.6 179.4L505.8 179.8L506.1 179.9L506.3 179.7L506.6 179.3L506.8 179.8L507.1 179.6L507.3 179.8L507.6 179.3L507.8 179.3L508.1 179.6L508.3 179.5L508.6 179.4L508.8 179.1L509.1 179.1L509.3 179.2L509.6 178.8L509.8 178.3L510.1 178L510.3 177.4L510.6 176.5L510.8 174.7L511.1 172.1L511.3 167.1L511.6 153L511.8 132.9L511.8 135.2L512 161L512.3 166.7L512.5 154L512.5 154.9L512.8 171.6L513 176.6L513.3 178.1L513.5 178.6L513.8 179.4L514 179.3L514.3 179.2L514.5 179.4L514.8 179.7L515 179.4L515.3 179.7L515.5 179.4L515.8 179.4L516 179.3L516.3 179.1L516.5 179.5L516.8 179.1L517 179.3L517.3 179.4L517.5 179L517.8 178.7L518 179.1L518.3 178.9L518.5 179.3L518.8 178.8L519 179.2L519.3 178.8L519.5 178.9L519.8 178.9L520 179.3L520.3 179.1L520.5 179.2L520.8 178.8L521 179L521.3 179.3L521.5 179.1L521.8 179.2L522 179L522.3 178.8L522.5 179.3L522.8 178.9L523 178.8L523.3 179.1L523.5 178.8L523.8 179.2L524 179.1L524.3 178.9L524.5 179L524.8 178.9L525 178.6L525.3 178.6L525.5 178.7L525.8 178.4L526 178.5L526.3 178.5L526.5 178.7L526.8 178.5L527 178.3L527.3 178.7L527.5 178.7L527.8 178.7L528 178.8L528.3 178.6L528.5 179L528.8 178.9L529 178.7L529.3 179.1L529.5 179.1L529.8 179.2L530 179.2L530.3 179.4L530.5 179.4L530.8 179.4L531 179L531.3 179.2L531.5 179.6L531.8 179.3L532 179.4L532.3 179L532.5 179.3L532.8 179.3L533 179.4L533.3 179.4L533.5 179.1L533.8 178.9L534 178.7L534.3 178.8L534.5 178.8L534.8 179.1L535 178.7L535.3 178.8L535.5 178.8L535.8 178.3L536 178.5L536.3 178.7L536.5 178.4L536.8 178.5L537 179L537.3 179L537.5 178.8L537.8 178.8L538 179.4L538.3 179.2L538.5 179.2L538.8 179.6L539 179.6L539.3 179.9L539.5 179.3L539.8 179.8L540 179.6L540.3 179.5L540.5 179.6L540.8 179.3L541 179.4L541.3 179.4L541.5 179.7L541.8 179.8L542 179.4L542.3 179.5L542.5 179.8L542.8 179.5L543 179.5L543.3 179.8L543.5 179.6L543.8 179.5L544 179.6L544.3 179.2L544.5 179.3L544.8 179.5L545 179.4L545.3 179.5L545.5 179.1L545.8 179.2L546 179L546.3 178.9L546.5 178.9L546.8 179L547 179L547.3 179.2L547.5 179.2L547.8 179.4L548 179.5L548.3 179.4L548.5 179.5L548.8 179.4L549 179.3L549.3 179.4L549.5 179.4L549.8 179.6L550 179.5L550.3 179L550.5 179.3L550.8 178.9L551 179.1L551.3 179.2L551.5 179L551.8 178.6L552 178.7L552.3 178.5L552.5 178.8L552.8 178.8L553 178.8L553.3 178.6L553.5 178.7L553.8 178.5L554 179.1L554.3 179.2L554.5 178.7L554.8 179.2L555 179.3L555.3 179.1L555.5 179.1L555.8 179.2L556 179.7L556.3 179.3L556.5 179.5L556.8 179.8L557 179.3L557.3 179.7L557.5 179.5L557.8 179.4L558 179.4L558.3 179.3L558.5 179.6L558.8 179.4L559 179.2L559.3 179.1L559.5 179.3L559.8 179.6L560 179.6L560.3 179.1L560.5 179.3L560.8 179.3L561 179.3L561.3 179.2L561.5 179.2L561.8 179.4L562 179.5L562.3 179.5L562.5 179.4L562.8 179.4L563 178.9L563.3 179L563.5 179.1L563.8 179L564 179L564.3 179L564.5 178.9L564.8 178.7L565 179.3L565.3 179.3L565.5 179.1L565.8 178.9L566 179L566.3 179.4L566.5 179.2L566.8 179.3L567 179.4L567.3 179.5L567.5 179.4L567.8 179L568 179.3L568.3 179.6L568.5 179.1L568.8 179L569 178.8L569.3 178.5L569.5 178L569.8 177.5L570 176L570.3 172.8L570.5 163.4L570.6 162.5L570.8 169.7L571 174.6L571.3 170.3L571.4 169.8L571.5 174.5L571.8 177.6L572 178.3L572.3 178.6L572.5 178.6L572.8 178.8L573 179.1L573.3 178.8L573.5 179.1L573.8 178.9L574 179L574.3 179L574.5 178.8L574.8 178.8L575 178.8L575.3 179L575.5 179.1L575.8 179.1L576 178.7L576.3 178.8L576.5 178.7L576.8 178.9L577 178.8L577.3 178.7L577.5 178.6L577.8 179.1L578 178.7L578.3 179L578.5 178.6L578.8 178.5L579 178.9L579.3 179L579.5 178.5L579.8 179L580 178.8L580.3 179.1L580.5 179.1L580.8 178.8L581 179.1L581.3 178.6L581.5 178.8L581.8 178.7L582 178.6L582.3 178.7L582.5 178.8L582.8 178.4L583 178.5L583.3 178.5L583.5 178.3L583.8 178.5L584 178.2L584.3 178.5L584.5 178.5L584.8 178.6L585 178.7L585.3 178.7L585.5 178.5L585.8 178.5L586 178.5L586.3 178.9L586.5 178.9L586.8 179L587 179.1L587.3 179L587.5 179.2L587.8 179.1L588 179.1L588.3 179.2L588.5 179.1L588.8 179.2L589 179.3L589.3 178.9L589.5 179.2L589.8 178.8L590 178.9L590.3 179.2L590.5 179.2L590.8 179.1L591 179L591.3 179L591.5 179L591.8 178.8L592 178.6L592.3 178.4L592.5 178.9L592.8 178.9L593 178.9L593.3 178.8L593.5 178.9L593.8 178.9L594 178.8L594.3 178.9L594.5 178.6L594.8 178.8L595 178.9L595.3 178.8L595.5 178.6L595.8 178.5L596 178.8L596.3 178.4L596.5 178.8L596.8 178.4L597 178.7L597.3 178.4L597.5 178.8L597.8 178.3L598 178.3L598.3 178.6L598.5 178.7L598.8 178.5L599 178.6L599.3 178.8L599.5 178.6L599.8 178.8L600 178.9L600.3 178.8L600.5 178.8L600.8 179.4L601 179L601.3 179.5L601.5 179.5L601.8 179.3L602 179.5L602.3 179L602.5 179.3L602.8 179.1L603 179L603.3 179.3L603.5 178.7L603.8 179.2L604 178.7L604.3 179L604.5 178.7L604.8 178.9L605 179.1L605.3 179.1L605.5 178.7L605.8 178.9L606 179L606.3 179.2L606.5 178.8L606.8 179.3L607 179.4L607.3 179.4L607.5 179L607.8 179L608 179.4L608.3 179.2L608.5 179L608.8 178.8L609 178.9L609.3 179.2L609.5 179.1L609.8 178.9L610 179.2L610.3 178.9L610.5 178.9L610.8 178.8L611 178.8L611.3 178.8L611.5 179.1L611.8 178.8L612 178.7L612.3 178.8L612.5 179.2L612.8 179L613 178.8L613.3 179L613.5 179.1L613.8 178.9L614 179.5L614.3 179.5L614.5 179L614.8 179.4L615 179.2L615.3 179.1L615.5 179.2L615.8 179L616 179.3L616.3 179L616.5 179L616.8 178.9L617 178.2L617.3 177.2L617.5 176.2L617.8 174.9L618 176.2L618.3 177.3L618.5 177.6L618.8 177.9L619 178.6L619.3 178.5L619.5 178.2L619.8 178.7L620 178.3L620.3 178.7L620.5 178.7L620.8 178.8L621 178.4L621.3 179L621.5 179L621.8 179L622 178.9L622.3 178.6L622.5 179L622.8 178.8L623 178.9L623.3 178.8L623.5 178.5L623.8 178.9L624 178.7L624.3 178.5L624.5 178.5L624.8 178.4L625 178.5L625.3 178.9L625.5 178.5L625.8 178.5L626 178.7L626.3 178.3L626.5 178.3L626.8 178.7L627 178.4L627.3 178.7L627.5 178.9L627.8 178.8L628 178.6L628.3 178.7L628.5 179L628.8 179.3L629 179.1L629.3 179.2L629.5 179.2L629.8 179L630 179.2L630.3 178.8L630.5 179L630.8 179.3L631 178.9L631.3 179.1L631.5 179.1L631.8 178.6L632 179L632.3 178.6L632.5 179L632.8 178.6L633 178.7L633.3 178.9L633.5 178.9L633.8 178.6L634 178.4L634.3 178.7L634.5 178.7L634.8 178.4L635 178.6L635.3 179L635.5 178.8L635.8 178.6L636 178.9L636.3 178.9L636.5 179.3L636.8 179.1L637 178.8L637.3 179L637.5 179L637.8 179.6L638 179.3L638.3 179.3L638.5 179.7L638.8 179.3L639 179.5L639.3 179.7L639.5 179.7L639.8 179.2L640 179.4L640.3 179.2L640.5 179.5L640.8 179.2L641 179.1L641.3 179.2L641.5 179.1L641.8 179.5L642 179.2L642.3 179.3L642.5 179.2L642.8 179.2L643 179.2L643.3 179.2L643.5 179.4L643.8 179.1L644 179.4L644.3 179.1L644.5 179L644.8 179L645 179.5L645.3 179L645.5 179.1L645.8 179.5L646 179L646.3 179.1L646.5 179.2L646.8 179.5L647 179.1L647.3 179.6L647.5 179L647.8 179.3L648 179.4L648.3 179.2L648.5 179.1L648.8 179L649 178.8L649.3 179.2L649.5 178.8L649.8 178.9L650 178.8L650.3 179L650.5 178.6L650.8 178.5L651 179L651.3 178.7L651.5 178.8L651.8 178.9L652 179L652.3 179.1L652.5 179L652.8 178.6L653 179.2L653.3 178.7L653.5 179.3L653.8 178.7L654 179.2L654.3 179.2L654.5 178.8L654.8 179.3L655 179.3L655.3 179L655.5 179.5L655.8 179.4L656 179.3L656.3 179.6L656.5 179.2L656.8 179.2L657 179.7L657.3 179.2L657.5 179.7L657.8 179.3L658 179.6L658.3 179.3L658.5 179.2L658.8 178.9L659 177.9L659.3 177.4L659.5 177.9L659.8 178.6L660 179.3L660.3 179.4L660.5 179.1L660.8 179L661 179.1L661.3 179.3L661.5 179.1L661.8 178.9L662 179.2L662.3 178.8L662.5 179L662.8 179L663 178.6L663.3 178.8L663.5 178.8L663.8 179L664 178.6L664.3 178.7L664.5 179L664.8 178.5L665 179L665.3 178.7L665.5 178.7L665.8 179.2L666 178.8L666.3 178.8L666.5 178.7L666.8 179.1L667 179.1L667.3 178.8L667.5 179L667.8 178.9L668 179.3L668.3 178.9L668.5 179.1L668.8 179.3L669 178.9L669.3 179.3L669.5 179L669.8 179.1L670 178.9L670.3 179.2L670.5 179.2L670.8 179.1L671 179.3L671.3 179.1L671.5 178.8L671.8 179.4L672 179.2L672.3 179.3L672.5 179.3L672.8 178.9L673 179.1L673.3 179L673.5 179.3L673.8 179.4L674 179.3L674.3 179.4L674.5 179.1L674.8 178.9L675 179.1L675.3 179L675.5 179L675.8 178.9L676 178.9L676.3 179.2L676.5 179.1L676.8 179.2L677 179.3L677.3 178.7L677.5 179.2L677.8 179L678 178.9L678.3 179.1L678.5 178.8L678.8 178.5L679 178.6L679.3 178.7L679.5 179L679.8 178.9L680 179L680.3 178.7L680.5 178.9L680.8 179.1L681 179.3L681.3 179.2L681.5 179.1L681.8 179.2L682 179.5L682.3 179.5L682.5 179.2L682.8 179.6L683 179L683.3 179.1L683.5 179.1L683.8 179.3L684 179.1L684.3 179.1L684.5 179.2L684.8 178.8L685 178.6L685.3 178.7L685.5 178.8L685.8 178.5L686 178.4L686.3 178.9L686.5 179.1L686.8 179L687 178.7L687.3 178.8L687.5 179.1L687.8 179.2L688 178.8L688.3 179.2L688.5 179.1L688.8 178.8L689 179L689.3 178.8L689.5 179L689.8 179.1L690 179.3L690.3 179.1L690.5 179.3L690.8 179.3L691 179.3L691.3 179.3L691.5 179.2L691.8 179.4L692 179.2L692.3 179.5L692.5 179L692.8 179.4L693 179.4L693.3 178.9L693.5 179.3L693.8 179.1L694 179.1L694.3 179.2L694.5 179.3L694.8 179.2L695 179.3L695.3 179L695.5 178.9L695.8 179.3L696 179.6L696.3 179L696.5 179.5L696.8 179.2L697 179.4L697.3 179.1L697.5 179.3L697.8 178.8L698 178.4L698.3 176.8L698.5 176.1L698.5 176.2L698.8 177.3L699 179L699.3 179.3L699.5 179.7L699.8 179.4L700 179.7L700.3 179.4L700.5 179.3L700.8 179.4L701 179.4L701.3 179.4L701.5 179.3L701.8 179.1L702 179.4L702.3 179.1L702.5 179.1L702.8 179.4L703 179.3L703.3 179.3L703.5 179.4L703.8 179.4L704 179L704.3 179.5L704.5 179.3L704.8 179.3L705 179.2L705.3 179.2L705.5 179.4L705.8 179.1L706 179.5L706.3 179.3L706.5 179.5L706.8 179.5L707 179.4L707.3 179L707.5 179.2L707.8 179.1L708 179.2L708.3 179.2L708.5 179L708.8 179.1L709 178.6L709.3 179L709.5 179.1L709.8 179L710 178.9L710.3 178.7L710.5 179L710.8 178.8L711 178.6L711.3 178.8L711.5 179L711.8 178.9L712 179L712.3 178.5L712.5 179.2L712.8 179.1L713 178.9L713.3 179.2L713.5 178.7L713.8 178.9L714 178.8L714.3 179.1L714.5 179.3L714.8 179.3L715 178.8L715.3 179.3L715.5 179.2L715.8 179L716 179.4L716.3 179.2L716.5 178.9L716.8 179.1L717 179.4" fill="none" stroke="#1010ff" stroke-width="1.5" stroke-linejoin="round"/>
<path d="M395.8 221.5L396.1 221.5L396.3 221.2L396.6 221.2L396.8 221.5L397.1 221.1L397.3 221.4L397.6 221.3L397.8 221.4L398.1 221.4L398.3 221.5L398.6 221.2L398.8 221.1L399.1 221.8L399.3 221.8L399.6 221.5L399.8 221.6L400.1 221.3L400.3 221.5L400.6 221.6L400.8 221.6L401.1 221.3L401.3 221.2L401.6 221.7L401.8 221.6L402.1 221.1L402.3 221.5L402.6 221.4L402.8 221L403.1 221.3L403.3 221.1L403.6 221L403.8 220.9L404.1 221.2L404.3 221.2L404.6 221.1L404.8 220.8L405.1 221.2L405.3 220.9L405.6 220.9L405.8 221.1L406.1 220.8L406.3 221.2L406.6 221L406.8 221.1L407.1 220.8L407.3 220.8L407.6 220.7L407.8 220.7L408.1 220.8L408.3 221.1L408.6 221L408.8 221.2L409.1 220.7L409.3 220.9L409.6 220.7L409.8 221.3L410.1 220.8L410.3 221.1L410.6 221.1L410.8 220.8L411.1 221.3L411.3 221.3L411.6 220.8L411.8 220.6L412.1 220.9L412.3 220.8L412.6 220.8L412.8 220.7L413.1 220.9L413.3 220.7L413.6 220.4L413.8 220.6L414.1 220.4L414.3 220.7L414.6 220.4L414.8 220.1L415.1 220.6L415.3 220.2L415.6 220.6L415.8 220.4L416.1 220.5L416.3 220.5L416.6 220.6L416.8 220.6L417.1 220.4L417.3 220.2L417.6 220.3L417.8 220.2L418.1 220.2L418.3 220.2L418.6 220.1L418.8 219.9L419.1 219.9L419.3 219.8L419.6 219.7L419.8 219.9L420.1 219.5L420.3 219.6L420.6 219.5L420.8 219.8L421.1 219.5L421.3 219.5L421.6 220L421.8 219.8L422.1 220.1L422.3 219.8L422.6 220L422.8 220.2L423.1 219.9L423.3 220.6L423.6 220.2L423.8 220.8L424.1 220.6L424.3 220.8L424.6 220.4L424.8 220.9L425.1 220.6L425.3 220.5L425.6 220.4L425.8 220.3L426.1 220.6L426.3 220.6L426.6 220.2L426.8 220.3L427.1 220.3L427.3 220.1L427.6 220L427.8 220L428.1 219.8L428.3 220.1L428.6 219.9L428.8 219.9L429.1 219.7L429.3 220.3L429.6 219.7L429.8 220.2L430.1 220.1L430.3 220L430.6 220.4L430.8 219.8L431.1 220L431.3 220L431.6 220.2L431.8 220.2L432.1 220.2L432.3 220.3L432.6 219.8L432.8 220.1L433.1 220L433.3 220.2L433.6 220.1L433.8 219.9L434.1 219.7L434.3 219.9L434.6 220L434.8 220L435.1 220.1L435.3 220.3L435.6 220.1L435.8 220.4L436.1 220.2L436.3 220.3L436.6 220.3L436.8 220.7L437.1 220.6L437.3 220.8L437.6 220.3L437.8 220.9L438.1 220.5L438.3 220.9L438.6 220.4L438.8 220.9L439.1 220.8L439.3 220.8L439.6 220.6L439.8 220.5L440.1 220.4L440.3 220.3L440.6 220.6L440.8 220.3L441.1 220L441.3 220.1L441.6 220L441.8 220.1L442.1 220.2L442.3 220.4L442.6 220.2L442.8 220.3L443.1 219.9L443.3 220.2L443.6 220.3L443.8 220.4L444.1 220.2L444.3 220.1L444.6 220.3L444.8 219.8L445.1 220.2L445.3 220.1L445.6 220.2L445.8 219.9L446.1 219.8L446.3 219.9L446.6 220.2L446.8 220L447.1 220.4L447.3 219.9L447.6 220.3L447.8 220.2L448.1 220.1L448.3 220L448.6 220L448.8 220L449.1 219.9L449.3 219.9L449.6 220.3L449.8 219.9L450.1 220L450.3 220L450.6 219.7L450.8 220L451.1 219.6L451.3 219.5L451.6 219.4L451.8 219.5L452.1 219.4L452.3 219.7L452.6 219.7L452.8 219.4L453.1 220L453.3 219.9L453.6 219.8L453.8 220.1L454.1 219.8L454.3 219.7L454.6 220.1L454.8 220.2L455.1 219.7L455.3 220L455.6 219.8L455.8 220.3L456.1 219.8L456.3 220.3L456.6 219.9L456.8 220.2L457.1 220.3L457.3 220.4L457.6 220L457.8 220.3L458.1 220.1L458.3 220.2L458.6 220.3L458.8 220.3L459.1 220.9L459.3 220.7L459.6 220.5L459.8 220.7L460.1 220.3L460.3 220.4L460.6 220.6L460.8 220.6L461.1 220.4L461.3 220.6L461.6 220.5L461.8 220.2L462.1 219.9L462.3 220L462.6 219.6L462.8 219.9L463.1 219.4L463.3 219.8L463.6 219.1L463.8 219.5L464.1 219.3L464.3 219.5L464.6 219.3L464.8 219.5L465.1 219.4L465.3 219.4L465.6 219.6L465.8 219.1L466.1 219.6L466.3 219.5L466.6 219.6L466.8 219.7L467.1 219.5L467.3 219.7L467.6 220L467.8 219.8L468.1 220.1L468.3 219.5L468.6 219.9L468.8 220L469.1 219.8L469.3 219.6L469.6 220L469.8 219.9L470.1 219.6L470.3 219.4L470.6 219.8L470.8 219.8L471.1 219.8L471.3 219.7L471.6 219.4L471.8 219.6L472.1 219.5L472.3 219.4L472.6 219.4L472.8 219.6L473.1 219.8L473.3 219.4L473.6 219.4L473.8 219.5L474.1 219.5L474.3 219.3L474.6 219.4L474.8 219.3L475.1 219.4L475.3 218.9L475.6 219.2L475.8 219L476.1 219.3L476.3 219.1L476.6 219.2L476.8 219.2L477.1 218.9L477.3 218.8L477.6 219.3L477.8 218.9L478.1 219.5L478.3 219.4L478.6 219.3L478.8 219.5L479.1 219.2L479.3 219.6L479.6 219.8L479.8 219.2L480.1 219.8L480.3 219.4L480.6 219.4L480.8 219.8L481.1 219.7L481.3 219.4L481.6 219.8L481.8 219.2L482.1 219.6L482.3 219.6L482.6 219.8L482.8 219.3L483.1 219.5L483.3 219.6L483.6 219.4L483.8 219.7L484.1 219.9L484.3 219.9L484.6 219.4L484.8 219.6L485.1 219.9L485.3 219.4L485.6 219.8L485.8 219.5L486.1 219.9L486.3 219.8L486.6 220L486.8 219.5L487.1 219.9L487.3 219.8L487.6 219.7L487.8 219.9L488.1 220.2L488.3 220.1L488.6 220.1L488.8 219.9L489.1 220L489.3 220L489.6 220.2L489.8 220.1L490.1 219.8L490.3 219.7L490.6 219.5L490.8 219.7L491.1 219.3L491.3 219.8L491.6 219.4L491.8 219.1L492.1 219.2L492.3 219.5L492.6 218.9L492.8 218.4L493.1 217.5L493.3 216.6L493.6 217.5L493.8 218.3L494.1 219L494.3 219.2L494.6 219.7L494.8 219.5L495.1 219.7L495.3 219.7L495.6 219.6L495.8 219.3L496.1 219.2L496.3 219.3L496.6 219.3L496.8 219.4L497.1 219.4L497.3 219L497.6 219.2L497.8 219L498.1 219.2L498.3 218.7L498.6 219.2L498.8 219.1L499.1 218.8L499.3 218.8L499.6 218.9L499.8 219.1L500.1 219.3L500.3 219.4L500.6 219.2L500.8 218.9L501.1 219.5L501.3 219.6L501.6 219.1L501.8 219.4L502.1 219.5L502.3 219.5L502.6 219.5L502.8 219L503.1 219.2L503.3 219.2L503.6 219.3L503.8 218.9L504.1 219L504.3 218.9L504.6 218.8L504.8 219.1L505.1 218.9L505.3 219L505.6 218.9L505.8 219.3L506.1 218.9L506.3 219.3L506.6 219.3L506.8 219.1L507.1 219.3L507.3 219.3L507.6 219.3L507.8 219.5L508.1 219.1L508.3 219.2L508.6 219.5L508.8 219L509.1 219.4L509.3 219L509.6 218.7L509.8 219L510.1 218.5L510.3 218.5L510.6 217.8L510.8 216.6L511.1 214.7L511.3 210.7L511.6 201.5L511.8 188L511.8 189.5L512 206.9L512.3 210.8L512.5 202.3L512.5 203.4L512.8 214.5L513 217.6L513.3 218.8L513.5 218.7L513.8 218.9L514 219.3L514.3 219.6L514.5 219.3L514.8 219.1L515 219.2L515.3 219.3L515.5 219.7L515.8 219.4L516 219.7L516.3 219.8L516.5 219.7L516.8 219.8L517 219.4L517.3 219.4L517.5 219.4L517.8 219.3L518 219.9L518.3 219.4L518.5 219.6L518.8 219.4L519 219.5L519.3 219.4L519.5 219.6L519.8 219.3L520 219.4L520.3 219.3L520.5 219.4L520.8 219.7L521 219.8L521.3 219.2L521.5 219.7L521.8 219.6L522 219.2L522.3 219.2L522.5 219.6L522.8 219.1L523 219.5L523.3 219.2L523.5 219.4L523.8 219L524 218.7L524.3 218.9L524.5 218.7L524.8 218.4L525 218.9L525.3 218.9L525.5 218.9L525.8 218.7L526 218.6L526.3 218.4L526.5 218.9L526.8 218.8L527 218.8L527.3 218.9L527.5 219L527.8 218.7L528 218.7L528.3 219.3L528.5 218.7L528.8 218.9L529 219.1L529.3 218.9L529.5 219.1L529.8 219.5L530 219.4L530.3 219.4L530.5 219L530.8 219.3L531 219.2L531.3 219.4L531.5 219.4L531.8 219.5L532 219.4L532.3 219.8L532.5 219.6L532.8 219.9L533 219.5L533.3 219.4L533.5 219.6L533.8 219.9L534 219.5L534.3 219.8L534.5 219.7L534.8 219.4L535 219.4L535.3 219.3L535.5 219.5L535.8 219.6L536 219.4L536.3 219.7L536.5 219.1L536.8 219.6L537 219.2L537.3 219.7L537.5 219L537.8 219.5L538 219.2L538.3 219L538.5 218.8L538.8 218.9L539 218.9L539.3 219.2L539.5 219.2L539.8 218.7L540 219L540.3 218.7L540.5 218.8L540.8 219.1L541 219.1L541.3 219.4L541.5 219.4L541.8 219L542 219.4L542.3 219.5L542.5 219.5L542.8 219.5L543 219.4L543.3 219.5L543.5 219.4L543.8 219.5L544 219.6L544.3 219.2L544.5 219.3L544.8 219.3L545 219.5L545.3 219.1L545.5 219.2L545.8 219.3L546 219.1L546.3 219.4L546.5 219.2L546.8 218.9L547 219.1L547.3 219L547.5 219.3L547.8 219.3L548 219.4L548.3 219.7L548.5 219.9L548.8 219.8L549 219.9L549.3 220L549.5 220.1L549.8 219.6L550 220.1L550.3 219.6L550.5 219.7L550.8 220L551 219.5L551.3 220L551.5 219.9L551.8 219.3L552 219.6L552.3 219.8L552.5 219.5L552.8 219.5L553 219.6L553.3 219.5L553.5 219.6L553.8 219.7L554 219.9L554.3 219.3L554.5 219.5L554.8 219.3L555 219.4L555.3 219.5L555.5 219.9L555.8 219.5L556 219.7L556.3 219.4L556.5 219.8L556.8 219.3L557 219.3L557.3 219.3L557.5 219.1L557.8 219L558 219.1L558.3 218.9L558.5 218.8L558.8 219.3L559 218.9L559.3 218.7L559.5 219.1L559.8 219.1L560 219.2L560.3 219L560.5 219L560.8 219.3L561 219.2L561.3 219.5L561.5 219.2L561.8 219.2L562 219.2L562.3 219.2L562.5 219.2L562.8 219.4L563 219.3L563.3 219.6L563.5 219.1L563.8 219.5L564 219.1L564.3 219.2L564.5 219.5L564.8 219.3L565 219.4L565.3 219.2L565.5 219.1L565.8 219.3L566 219.3L566.3 218.9L566.5 218.9L566.8 219.4L567 219.2L567.3 219.3L567.5 218.8L567.8 219.3L568 218.8L568.3 218.7L568.5 218.8L568.8 218.7L569 218.3L569.3 218.5L569.5 217.9L569.8 216.4L570 215L570.3 211.4L570.5 200.3L570.6 199.3L570.8 207.9L571 213.9L571.3 208.6L571.4 208.3L571.5 213.3L571.8 216.9L572 218.4L572.3 218.4L572.5 218.8L572.8 219.1L573 218.9L573.3 219.4L573.5 219.1L573.8 219.1L574 219L574.3 219.6L574.5 219.2L574.8 219.7L575 219.4L575.3 219.8L575.5 219.2L575.8 219.7L576 219.8L576.3 219.6L576.5 219.2L576.8 219.7L577 219.6L577.3 219.2L577.5 219.7L577.8 219.1L578 219.1L578.3 219L578.5 219.4L578.8 219.3L579 219.1L579.3 219.3L579.5 219.5L579.8 219L580 219.4L580.3 219.1L580.5 219.3L580.8 219.2L581 219.1L581.3 219L581.5 219.4L581.8 219.3L582 219.4L582.3 219.1L582.5 219.7L582.8 219.1L583 219.2L583.3 219.6L583.5 219.3L583.8 219.4L584 219.6L584.3 219.7L584.5 219.8L584.8 219.4L585 219.6L585.3 219.1L585.5 219.6L585.8 219.5L586 219.5L586.3 219.1L586.5 219.2L586.8 219.3L587 218.8L587.3 219.2L587.5 219.1L587.8 219.2L588 218.8L588.3 219.2L588.5 219.1L588.8 218.9L589 219L589.3 219.5L589.5 219.3L589.8 219.2L590 219.4L590.3 219.6L590.5 219.3L590.8 219.3L591 219.6L591.3 219.8L591.5 219.6L591.8 219.7L592 219.2L592.3 219.2L592.5 219.2L592.8 219.2L593 219.1L593.3 219.4L593.5 219L593.8 219.1L594 219.1L594.3 219.5L594.5 219.1L594.8 219.3L595 219.1L595.3 219.4L595.5 219.1L595.8 218.9L596 219.2L596.3 219L596.5 219L596.8 219L597 218.8L597.3 219.2L597.5 219.1L597.8 219.2L598 219.2L598.3 219.1L598.5 219.2L598.8 219.2L599 219.6L599.3 219.3L599.5 219.2L599.8 219.2L600 219.4L600.3 219.6L600.5 219.6L600.8 219.7L601 219.7L601.3 219.4L601.5 219.6L601.8 219.5L602 219.3L602.3 219.6L602.5 219.7L602.8 219.2L603 219.5L603.3 219.2L603.5 219.6L603.8 219.3L604 219L604.3 219.2L604.5 219L604.8 218.9L605 219.1L605.3 218.9L605.5 219.2L605.8 219.1L606 219L606.3 218.8L606.5 219.1L606.8 218.6L607 219.1L607.3 218.9L607.5 219.3L607.8 218.8L608 219.3L608.3 219.1L608.5 219.3L608.8 219.5L609 219.3L609.3 219.7L609.5 219.7L609.8 219.5L610 219.8L610.3 219.7L610.5 219.4L610.8 219.8L611 219.7L611.3 219.8L611.5 219.7L611.8 219.3L612 219.4L612.3 219.3L612.5 218.9L612.8 219.2L613 218.8L613.3 218.9L613.5 219L613.8 218.9L614 218.8L614.3 219.2L614.5 218.7L614.8 219.1L615 218.9L615.3 219.4L615.5 219.5L615.8 219.4L616 219.6L616.3 219.5L616.5 219.5L616.8 219.4L617 219.3L617.3 218.3L617.5 217L617.8 215.9L618 217L618.3 218.4L618.5 219.1L618.8 219.4L619 219.7L619.3 219.6L619.5 219.1L619.8 219.1L620 219L620.3 219.3L620.5 219L620.8 219.3L621 218.8L621.3 219.2L621.5 219.1L621.8 219.1L622 218.9L622.3 219.1L622.5 218.7L622.8 219.1L623 219.2L623.3 219L623.5 219L623.8 218.8L624 219L624.3 219L624.5 218.9L624.8 218.7L625 219.3L625.3 219.2L625.5 218.9L625.8 219L626 219L626.3 219.3L626.5 219L626.8 219.1L627 219.2L627.3 218.8L627.5 219.1L627.8 219.3L628 219.3L628.3 219.4L628.5 218.9L628.8 219.3L629 219L629.3 219.4L629.5 219.3L629.8 219L630 219.1L630.3 219.1L630.5 219.3L630.8 219L631 218.7L631.3 219L631.5 218.6L631.8 218.6L632 218.7L632.3 218.7L632.5 218.4L632.8 218.5L633 218.4L633.3 218.4L633.5 218.5L633.8 218.3L634 218.3L634.3 218.5L634.5 218.8L634.8 219L635 218.9L635.3 218.6L635.5 219.1L635.8 219.2L636 219.3L636.3 219.3L636.5 219.1L636.8 219.2L637 219.2L637.3 219L637.5 219.3L637.8 219.2L638 219.7L638.3 219.5L638.5 219.6L638.8 219.1L639 219.5L639.3 219.6L639.5 219.4L639.8 219.3L640 219.4L640.3 219.5L640.5 219.4L640.8 219.4L641 219.6L641.3 219.8L641.5 219.4L641.8 219.8L642 219.3L642.3 219.7L642.5 219.5L642.8 219.6L643 219.5L643.3 219.4L643.5 219.4L643.8 219.9L644 219.6L644.3 219.9L644.5 219.6L644.8 219.8L645 219.5L645.3 219.9L645.5 219.6L645.8 219.4L646 219.4L646.3 219.3L646.5 219.3L646.8 219.7L647 219.4L647.3 219.8L647.5 219.3L647.8 219.7L648 219.2L648.3 219.2L648.5 219.2L648.8 219.1L649 219.2L649.3 219.5L649.5 219L649.8 219.1L650 218.9L650.3 219.4L650.5 219L650.8 219.3L651 219.5L651.3 219.2L651.5 219.1L651.8 219.2L652 219.6L652.3 219.1L652.5 219.6L652.8 219.1L653 219.1L653.3 219.5L653.5 219.4L653.8 219.1L654 219.4L654.3 219L654.5 219.4L654.8 219.2L655 219.4L655.3 219.2L655.5 219.2L655.8 219.3L656 219.2L656.3 218.8L656.5 219.2L656.8 219L657 219.2L657.3 219.4L657.5 219.2L657.8 219.3L658 219L658.3 218.7L658.5 218.6L658.8 218.3L659 218.2L659.3 217.7L659.5 218.2L659.8 218.7L660 219L660.3 219.2L660.5 219.2L660.8 219.3L661 219.2L661.3 219L661.5 219L661.8 218.7L662 218.7L662.3 219.2L662.5 218.8L662.8 219.2L663 218.9L663.3 218.8L663.5 219.3L663.8 219.2L664 219.4L664.3 219.1L664.5 219.4L664.8 219.2L665 219L665.3 219.1L665.5 219.3L665.8 219.5L666 219.4L666.3 219.5L666.5 219.2L666.8 219.2L667 219.3L667.3 219.6L667.5 219.2L667.8 219.1L668 219.3L668.3 219.5L668.5 219.7L668.8 219.8L669 219.7L669.3 219.8L669.5 219.8L669.8 219.9L670 219.8L670.3 220L670.5 219.9L670.8 219.3L671 219.3L671.3 219.8L671.5 219.5L671.8 219.1L672 219.5L672.3 218.9L672.5 219.1L672.8 218.9L673 218.7L673.3 218.6L673.5 218.5L673.8 218.6L674 218.4L674.3 218.8L674.5 218.6L674.8 218.8L675 219L675.3 219L675.5 219L675.8 219L676 218.6L676.3 219.2L676.5 219L676.8 219L677 219.1L677.3 218.8L677.5 219L677.8 218.9L678 219.4L678.3 219.1L678.5 218.9L678.8 219.4L679 219.2L679.3 219.4L679.5 219.5L679.8 219.4L680 219.3L680.3 219.3L680.5 219.2L680.8 219.6L681 219.3L681.3 219.4L681.5 219.7L681.8 219.7L682 219.7L682.3 219.3L682.5 219.7L682.8 219.2L683 219.6L683.3 219.5L683.5 219.6L683.8 219.6L684 219.3L684.3 219.2L684.5 219.6L684.8 219.2L685 219.2L685.3 219.3L685.5 219.1L685.8 219.3L686 219.1L686.3 219.3L686.5 219.6L686.8 219.6L687 219.6L687.3 219.4L687.5 219.5L687.8 219.3L688 219.6L688.3 219.1L688.5 219.1L688.8 219L689 219.2L689.3 219L689.5 219.4L689.8 219L690 219.3L690.3 219.2L690.5 219.3L690.8 219.2L691 219.3L691.3 219.1L691.5 219.1L691.8 218.9L692 219.1L692.3 218.8L692.5 219.4L692.8 219.4L693 218.9L693.3 218.9L693.5 219.1L693.8 219.2L694 219.2L694.3 219L694.5 219.2L694.8 219L695 219L695.3 218.8L695.5 219.1L695.8 218.7L696 219.2L696.3 218.9L696.5 218.8L696.8 219L697 219.2L697.3 218.7L697.5 218.8L697.8 218.9L698 218.3L698.3 217.3L698.5 216.7L698.5 216.7L698.8 217.7L699 218.5L699.3 219.2L699.5 219.5L699.8 219.6L700 219.8L700.3 220L700.5 219.7L700.8 219.6L701 219.9L701.3 219.5L701.5 219.9L701.8 219.8L702 219.8L702.3 219.6L702.5 219.3L702.8 219.6L703 219.4L703.3 219.2L703.5 219.1L703.8 219.2L704 219.1L704.3 219.1L704.5 219.5L704.8 219.6L705 219.6L705.3 219.3L705.5 219.3L705.8 218.9L706 218.9L706.3 219.3L706.5 219.1L706.8 219.1L707 219.2L707.3 219.2L707.5 219.2L707.8 218.7L708 219L708.3 219.2L708.5 219.2L708.8 219.3L709 219.1L709.3 219.1L709.5 218.8L709.8 219.1L710 219.2L710.3 219.4L710.5 219.4L710.8 218.9L711 219L711.3 219.2L711.5 219.4L711.8 219.1L712 219.5L712.3 219.3L712.5 219.5L712.8 219.2L713 219.2L713.3 219L713.5 219.3L713.8 219.4L714 219.3L714.3 219.3L714.5 219.5L714.8 219.4L715 219.1L715.3 219.5L715.5 219.4L715.8 219.2L716 219.1L716.3 219.4L716.5 219.4L716.8 219.5L717 219.2" fill="none" stroke="#ff1010" stroke-width="1.5" stroke-linejoin="round"/>
<path d="M395.8 252.5L396.1 252.1L396.3 251.9L396.6 252.1L396.8 251.9L397.1 251.9L397.3 252.1L397.6 252.4L397.8 252.1L398.1 252.4L398.3 252.1L398.6 252.1L398.8 251.8L399.1 251.9L399.3 252.4L399.6 252.3L399.8 252.2L400.1 252.5L400.3 252.4L400.6 252.2L400.8 252.6L401.1 252.5L401.3 252.1L401.6 252.6L401.8 252.4L402.1 252.7L402.3 252.7L402.6 252.8L402.8 252.3L403.1 252.7L403.3 252.4L403.6 252.7L403.8 252.3L404.1 252.7L404.3 252.8L404.6 252.5L404.8 252.5L405.1 252.5L405.3 252.7L405.6 252.2L405.8 252.7L406.1 252.4L406.3 252.4L406.6 252.8L406.8 252.3L407.1 252.3L407.3 252.7L407.6 252.8L407.8 252.5L408.1 252.8L408.3 252.6L408.6 252.3L408.8 252.5L409.1 252.4L409.3 252.6L409.6 252.6L409.8 252.6L410.1 252.9L410.3 252.6L410.6 252.5L410.8 253L411.1 252.8L411.3 253L411.6 252.7L411.8 252.8L412.1 252.6L412.3 252.9L412.6 252.5L412.8 252.8L413.1 252.4L413.3 252.6L413.6 252.4L413.8 252.5L414.1 252.1L414.3 252.5L414.6 252.1L414.8 251.9L415.1 252.2L415.3 251.8L415.6 252.1L415.8 252.2L416.1 251.8L416.3 251.8L416.6 251.9L416.8 252.2L417.1 252.3L417.3 252.5L417.6 252.1L417.8 252L418.1 252.4L418.3 252.5L418.6 252.5L418.8 252.3L419.1 252.2L419.3 252.5L419.6 252.6L419.8 252.2L420.1 252.5L420.3 252.4L420.6 252.6L420.8 252.2L421.1 252.1L421.3 251.9L421.6 251.9L421.8 252.2L422.1 251.9L422.3 252.3L422.6 251.9L422.8 252.1L423.1 251.9L423.3 252.1L423.6 252L423.8 251.9L424.1 251.9L424.3 252L424.6 251.9L424.8 252.5L425.1 252.6L425.3 252.6L425.6 252.1L425.8 252.7L426.1 252.7L426.3 252.8L426.6 252.7L426.8 252.5L427.1 252.6L427.3 252.7L427.6 252.6L427.8 252.5L428.1 253.1L428.3 252.8L428.6 253L428.8 252.7L429.1 253.2L429.3 253.1L429.6 252.6L429.8 252.8L430.1 253.1L430.3 252.7L430.6 252.7L430.8 252.7L431.1 252.7L431.3 253.1L431.6 253.1L431.8 252.9L432.1 252.7L432.3 253L432.6 252.8L432.8 252.5L433.1 252.5L433.3 252.8L433.6 252.7L433.8 252.6L434.1 252.7L434.3 252.5L434.6 252.7L434.8 252.4L435.1 253L435.3 252.9L435.6 252.7L435.8 252.9L436.1 252.7L436.3 252.6L436.6 252.7L436.8 252.6L437.1 252.8L437.3 252.5L437.6 252.1L437.8 251.9L438.1 252.4L438.3 252.2L438.6 252.1L438.8 251.9L439.1 252.2L439.3 251.5L439.6 251.5L439.8 251.6L440.1 252L440.3 251.8L440.6 251.7L440.8 251.6L441.1 251.4L441.3 251.4L441.6 251.5L441.8 251.6L442.1 251.8L442.3 251.8L442.6 252.2L442.8 252.3L443.1 252.1L443.3 252L443.6 252.2L443.8 252L444.1 252.5L444.3 252.4L444.6 252.7L444.8 252.4L445.1 252.7L445.3 252.4L445.6 252.6L445.8 252.4L446.1 252.6L446.3 252.2L446.6 252.1L446.8 252L447.1 252.2L447.3 252.4L447.6 252.2L447.8 252.4L448.1 252.2L448.3 252.2L448.6 252.2L448.8 251.9L449.1 252.3L449.3 252L449.6 252L449.8 252L450.1 252.1L450.3 252.4L450.6 252.2L450.8 252.2L451.1 252.3L451.3 252.7L451.6 252.3L451.8 252.4L452.1 252.4L452.3 252.4L452.6 252.5L452.8 252.8L453.1 253L453.3 252.6L453.6 252.9L453.8 252.5L454.1 252.7L454.3 253L454.6 252.5L454.8 253.1L455.1 252.7L455.3 252.8L455.6 253L455.8 253L456.1 252.5L456.3 252.6L456.6 252.8L456.8 252.6L457.1 252.8L457.3 252.3L457.6 252.8L457.8 252.5L458.1 252.5L458.3 252.5L458.6 252.2L458.8 252.3L459.1 252.1L459.3 252.5L459.6 252.2L459.8 252.1L460.1 252.5L460.3 252.2L460.6 252.6L460.8 252.2L461.1 252.3L461.3 252.4L461.6 252.3L461.8 252.6L462.1 252.5L462.3 252.5L462.6 252.3L462.8 252.1L463.1 252.1L463.3 252.1L463.6 252.4L463.8 252.6L464.1 252.4L464.3 252.3L464.6 252.1L464.8 252.3L465.1 252.1L465.3 252.3L465.6 252.3L465.8 252.6L466.1 252.3L466.3 252.6L466.6 252L466.8 252.2L467.1 252.4L467.3 252.2L467.6 251.9L467.8 252.1L468.1 252.2L468.3 252.5L468.6 252L468.8 251.8L469.1 252.3L469.3 252.2L469.6 252L469.8 252.1L470.1 252.1L470.3 252.3L470.6 252.5L470.8 252.2L471.1 252.6L471.3 252.3L471.6 252.4L471.8 252.2L472.1 252.2L472.3 252.3L472.6 252.3L472.8 252.4L473.1 252.5L473.3 252.7L473.6 252.3L473.8 252.6L474.1 252.2L474.3 252.3L474.6 252L474.8 252.5L475.1 252.1L475.3 252.2L475.6 252.1L475.8 252L476.1 251.8L476.3 252.1L476.6 251.9L476.8 251.7L477.1 251.7L477.3 251.9L477.6 252L477.8 251.8L478.1 251.9L478.3 252.3L478.6 252.2L478.8 251.9L479.1 252.4L479.3 252L479.6 252.5L479.8 252.5L480.1 252.1L480.3 252.6L480.6 252.5L480.8 252.1L481.1 252.4L481.3 252.3L481.6 252.1L481.8 252.2L482.1 252.2L482.3 252.5L482.6 252.5L482.8 252.8L483.1 252.4L483.3 252.6L483.6 252.5L483.8 252.6L484.1 252.8L484.3 253L484.6 252.9L484.8 252.6L485.1 252.8L485.3 253L485.6 253.1L485.8 253.2L486.1 252.8L486.3 252.9L486.6 252.6L486.8 252.8L487.1 252.6L487.3 252.7L487.6 252.7L487.8 252.4L488.1 252.3L488.3 252.6L488.6 252.6L488.8 252.7L489.1 252.4L489.3 252.1L489.6 252.1L489.8 252.6L490.1 252.5L490.3 252.1L490.6 252.3L490.8 252.2L491.1 252.5L491.3 252.5L491.6 252.5L491.8 252.3L492.1 252.1L492.3 252.4L492.6 251.8L492.8 251.7L493.1 250.8L493.3 250.2L493.6 250.8L493.8 251.4L494.1 252.2L494.3 252.2L494.6 252.6L494.8 252.5L495.1 252.5L495.3 252.5L495.6 252.4L495.8 252.5L496.1 252.8L496.3 252.7L496.6 252.8L496.8 252.5L497.1 252.3L497.3 252.7L497.6 252.4L497.8 252.5L498.1 252L498.3 252.1L498.6 252.2L498.8 252.3L499.1 251.8L499.3 252.3L499.6 252L499.8 251.7L500.1 251.6L500.3 252.2L500.6 252L500.8 252.1L501.1 252L501.3 251.8L501.6 252.2L501.8 252.3L502.1 252.2L502.3 252.7L502.6 252.7L502.8 252.2L503.1 252.5L503.3 252.9L503.6 252.8L503.8 252.8L504.1 252.4L504.3 252.9L504.6 252.7L504.8 252.5L505.1 252.7L505.3 252.4L505.6 252.8L505.8 252.2L506.1 252.3L506.3 252.5L506.6 252.3L506.8 252.6L507.1 252.5L507.3 252.4L507.6 252.1L507.8 252.2L508.1 252.1L508.3 252L508.6 251.8L508.8 252L509.1 252.2L509.3 252.1L509.6 251.9L509.8 251.9L510.1 251.7L510.3 251.4L510.6 251L510.8 250.4L511.1 249.2L511.3 246.5L511.6 238.8L511.8 228.7L511.8 229.8L512 242.9L512.3 245.6L512.5 239.4L512.5 240.2L512.8 248L513 251L513.3 251.2L513.5 251.7L513.8 251.9L514 251.5L514.3 251.7L514.5 251.9L514.8 252L515 252.1L515.3 252.1L515.5 251.7L515.8 251.8L516 252.3L516.3 251.9L516.5 252.1L516.8 252.4L517 251.8L517.3 252.3L517.5 252.1L517.8 251.9L518 251.7L518.3 251.8L518.5 251.9L518.8 251.3L519 251.2L519.3 251.2L519.5 251.3L519.8 250.9L520 250.8L520.3 251.1L520.5 250.8L520.8 250.9L521 250.8L521.3 250.8L521.5 250.8L521.8 251L522 251.2L522.3 250.9L522.5 251.1L522.8 251.2L523 251.7L523.3 251.5L523.5 251.6L523.8 251.7L524 252.1L524.3 251.5L524.5 251.7L524.8 252.2L525 251.9L525.3 251.9L525.5 252.3L525.8 251.8L526 251.8L526.3 252.4L526.5 252.4L526.8 252.2L527 252L527.3 252.3L527.5 251.9L527.8 252.1L528 251.9L528.3 252L528.5 251.7L528.8 252L529 252L529.3 252.3L529.5 251.9L529.8 252.1L530 251.9L530.3 252L530.5 252L530.8 252.5L531 252L531.3 252.3L531.5 252.5L531.8 252.6L532 252.4L532.3 252.1L532.5 252.5L532.8 252.2L533 252.2L533.3 252.4L533.5 251.8L533.8 252.2L534 252.1L534.3 252L534.5 251.6L534.8 252L535 251.6L535.3 251.6L535.5 251.9L535.8 251.8L536 251.4L536.3 251.5L536.5 251.6L536.8 251.4L537 251.2L537.3 251.2L537.5 251.3L537.8 251.4L538 251.1L538.3 251L538.5 251.4L538.8 251.1L539 251.1L539.3 251.2L539.5 251.3L539.8 251.3L540 251.5L540.3 251.5L540.5 251.8L540.8 251.6L541 251.8L541.3 252.3L541.5 252L541.8 252.3L542 251.9L542.3 252.3L542.5 251.9L542.8 252.5L543 252.5L543.3 252.3L543.5 252L543.8 252.4L544 252.4L544.3 252.3L544.5 252.4L544.8 252.1L545 252.4L545.3 252.1L545.5 252.2L545.8 252.2L546 252L546.3 252.1L546.5 252.5L546.8 252L547 252.3L547.3 252.3L547.5 252.1L547.8 252.1L548 252.3L548.3 252.3L548.5 252.3L548.8 252.3L549 252.3L549.3 252.5L549.5 252.8L549.8 252.3L550 252.4L550.3 252.5L550.5 252.2L550.8 252.1L551 252.4L551.3 252.2L551.5 251.9L551.8 252.1L552 252.5L552.3 251.9L552.5 252.4L552.8 252.2L553 252.3L553.3 252.2L553.5 252.2L553.8 252.3L554 251.9L554.3 251.8L554.5 252.1L554.8 252L555 252L555.3 251.8L555.5 252.2L555.8 251.9L556 251.9L556.3 251.5L556.5 251.6L556.8 251.6L557 252L557.3 251.4L557.5 251.6L557.8 251.7L558 251.7L558.3 251.7L558.5 251.5L558.8 251.4L559 251.4L559.3 251.6L559.5 251.6L559.8 251.6L560 251.9L560.3 251.6L560.5 251.6L560.8 251.8L561 251.9L561.3 252.1L561.5 252L561.8 251.6L562 252L562.3 251.9L562.5 251.9L562.8 252.3L563 252.5L563.3 252.5L563.5 252.1L563.8 252.3L564 252.5L564.3 252.5L564.5 252L564.8 252.1L565 252.3L565.3 252L565.5 251.8L565.8 251.9L566 252.1L566.3 252.1L566.5 252.1L566.8 251.9L567 251.9L567.3 251.8L567.5 252L567.8 251.9L568 252L568.3 252.1L568.5 251.6L568.8 251.5L569 251.8L569.3 251.6L569.5 251.7L569.8 250.9L570 250.4L570.3 248.8L570.5 243.6L570.6 243.2L570.8 247L571 249.7L571.3 247.4L571.4 247.3L571.5 249.6L571.8 251.4L572 251.9L572.3 251.9L572.5 252.1L572.8 251.8L573 252.1L573.3 252.2L573.5 252.2L573.8 251.7L574 251.8L574.3 252L574.5 251.9L574.8 251.7L575 252L575.3 252L575.5 251.7L575.8 251.5L576 252L576.3 251.7L576.5 251.6L576.8 251.5L577 252L577.3 251.9L577.5 251.5L577.8 251.6L578 252.1L578.3 251.6L578.5 252L578.8 251.9L579 251.9L579.3 252L579.5 251.8L579.8 252L580 252.1L580.3 251.9L580.5 251.9L580.8 252L581 251.7L581.3 251.8L581.5 252.1L581.8 252L582 251.7L582.3 252.1L582.5 251.8L582.8 251.7L583 251.6L583.3 252.1L583.5 252L583.8 251.7L584 251.7L584.3 252.1L584.5 251.7L584.8 251.9L585 252.1L585.3 252.3L585.5 252.1L585.8 251.8L586 252.1L586.3 252.4L586.5 252L586.8 251.8L587 251.8L587.3 252.3L587.5 252.3L587.8 252L588 251.9L588.3 251.9L588.5 251.8L588.8 251.9L589 251.9L589.3 251.9L589.5 251.6L589.8 252.2L590 252L590.3 252L590.5 252.2L590.8 251.7L591 252.1L591.3 252L591.5 252.2L591.8 252.5L592 252L592.3 252.1L592.5 252.2L592.8 252.4L593 252.6L593.3 252.5L593.5 252.3L593.8 252.1L594 252.2L594.3 252.2L594.5 251.9L594.8 252.3L595 252.2L595.3 252L595.5 251.8L595.8 252L596 251.8L596.3 252L596.5 251.6L596.8 252L597 251.9L597.3 252.2L597.5 251.9L597.8 252.1L598 251.7L598.3 251.9L598.5 251.8L598.8 252.1L599 252.1L599.3 251.6L599.5 251.8L599.8 251.4L600 251.7L600.3 251.9L600.5 251.4L600.8 251.7L601 251.6L601.3 251.9L601.5 251.6L601.8 251.9L602 251.8L602.3 252L602.5 252.1L602.8 252L603 251.8L603.3 252L603.5 252.2L603.8 252.2L604 252L604.3 251.9L604.5 251.7L604.8 251.7L605 252L605.3 251.8L605.5 251.9L605.8 251.8L606 251.7L606.3 251.6L606.5 252L606.8 251.7L607 251.9L607.3 251.6L607.5 252.1L607.8 251.7L608 251.9L608.3 252.1L608.5 251.8L608.8 252L609 251.8L609.3 252.2L609.5 251.6L609.8 251.7L610 251.8L610.3 251.9L610.5 251.8L610.8 251.5L611 251.7L611.3 251.4L611.5 251.8L611.8 251.6L612 252L612.3 251.7L612.5 251.5L612.8 251.5L613 251.7L613.3 251.8L613.5 252.2L613.8 252.1L614 251.9L614.3 251.9L614.5 251.8L614.8 251.8L615 252.2L615.3 251.8L615.5 252.3L615.8 252L616 252.2L616.3 252.2L616.5 251.9L616.8 252.3L617 252.2L617.3 251.5L617.5 250.8L617.8 250.3L618 250.8L618.3 252L618.5 251.9L618.8 252.1L619 252.6L619.3 252.5L619.5 252.1L619.8 252.2L620 252L620.3 251.8L620.5 252.1L620.8 251.9L621 251.4L621.3 251.7L621.5 251.2L621.8 251.2L622 251.3L622.3 251.1L622.5 251.3L622.8 251.5L623 251.2L623.3 251.5L623.5 251.2L623.8 251.2L624 251.5L624.3 251.3L624.5 251.8L624.8 252L625 251.5L625.3 252L625.5 251.9L625.8 252.2L626 252.2L626.3 252.3L626.5 252.4L626.8 252.5L627 252.5L627.3 252.6L627.5 252.1L627.8 252.6L628 252.6L628.3 252.4L628.5 252.4L628.8 252.2L629 252.2L629.3 252.4L629.5 252.3L629.8 252.4L630 251.9L630.3 251.8L630.5 252.1L630.8 252.1L631 251.7L631.3 251.7L631.5 251.5L631.8 251.6L632 252.1L632.3 252.1L632.5 251.9L632.8 252.2L633 251.8L633.3 252.1L633.5 252.4L633.8 252.1L634 252.3L634.3 252.4L634.5 252L634.8 252.1L635 252.3L635.3 252.1L635.5 252.1L635.8 252.1L636 252.4L636.3 252.3L636.5 252.3L636.8 252.4L637 252.2L637.3 252.4L637.5 252.2L637.8 252L638 252.3L638.3 252.3L638.5 252.4L638.8 252.6L639 252L639.3 252.3L639.5 252.4L639.8 252.2L640 252.1L640.3 252.3L640.5 252.1L640.8 252L641 252.1L641.3 252L641.5 251.6L641.8 251.7L642 252L642.3 251.5L642.5 251.7L642.8 251.7L643 251.3L643.3 251.3L643.5 251.4L643.8 251.6L644 251.3L644.3 251.7L644.5 251.7L644.8 251.8L645 251.4L645.3 251.7L645.5 251.9L645.8 251.7L646 251.8L646.3 251.8L646.5 252.1L646.8 252.1L647 252.2L647.3 252.4L647.5 252.4L647.8 252.3L648 252.1L648.3 252.3L648.5 252.6L648.8 252.6L649 252.1L649.3 252.4L649.5 252L649.8 252L650 252.1L650.3 251.9L650.5 252.2L650.8 252.1L651 252L651.3 252.3L651.5 252L651.8 252L652 252L652.3 251.8L652.5 252.3L652.8 252.3L653 252.2L653.3 252.5L653.5 252.1L653.8 252.1L654 251.9L654.3 252L654.5 252.1L654.8 252L655 252.1L655.3 251.8L655.5 251.8L655.8 252.1L656 251.9L656.3 252.2L656.5 252.2L656.8 251.9L657 252L657.3 252.2L657.5 251.8L657.8 252.3L658 252L658.3 251.9L658.5 252L658.8 251.9L659 251.3L659.3 251L659.5 251.3L659.8 251.7L660 252L660.3 252L660.5 252.3L660.8 252.3L661 252.3L661.3 252.2L661.5 252.2L661.8 252.4L662 252.1L662.3 252.1L662.5 252.5L662.8 252.2L663 252.1L663.3 252.2L663.5 252.4L663.8 252.2L664 252.4L664.3 252.4L664.5 252.2L664.8 252.5L665 252.4L665.3 252L665.5 252L665.8 251.9L666 252.3L666.3 252L666.5 252.1L666.8 251.9L667 252.4L667.3 252.4L667.5 252.3L667.8 252.4L668 252.1L668.3 252L668.5 251.9L668.8 252.1L669 252.5L669.3 251.9L669.5 251.9L669.8 252.1L670 251.8L670.3 251.9L670.5 252.2L670.8 251.8L671 251.8L671.3 251.8L671.5 251.8L671.8 252.2L672 252.3L672.3 252.1L672.5 251.9L672.8 251.9L673 252.2L673.3 252.2L673.5 252.3L673.8 251.9L674 251.9L674.3 252L674.5 252.1L674.8 252.3L675 251.8L675.3 251.9L675.5 251.7L675.8 252.2L676 252.1L676.3 252.1L676.5 251.8L676.8 251.9L677 252.1L677.3 251.5L677.5 252L677.8 252L678 251.8L678.3 252L678.5 252L678.8 251.7L679 252.2L679.3 252.3L679.5 251.9L679.8 252.3L680 252.1L680.3 252.1L680.5 252.3L680.8 252.4L681 252.1L681.3 252L681.5 252.5L681.8 252.2L682 252.3L682.3 252.2L682.5 252.5L682.8 252.3L683 252.3L683.3 252.4L683.5 251.9L683.8 252.2L684 252.2L684.3 251.9L684.5 251.9L684.8 251.8L685 252.1L685.3 252.3L685.5 252L685.8 252.5L686 252L686.3 252.3L686.5 252.2L686.8 252.7L687 252.3L687.3 252.8L687.5 252.6L687.8 252.5L688 252.6L688.3 252.4L688.5 252.7L688.8 252.7L689 252.5L689.3 252.7L689.5 252.6L689.8 252.5L690 252.5L690.3 252.2L690.5 252.1L690.8 252.3L691 252.2L691.3 252L691.5 252.4L691.8 252.3L692 252.5L692.3 252.2L692.5 252.3L692.8 252.2L693 252.8L693.3 252.7L693.5 252.4L693.8 252.3L694 252.4L694.3 252.7L694.5 252.7L694.8 252.2L695 252.6L695.3 252.1L695.5 251.9L695.8 251.9L696 251.8L696.3 251.9L696.5 252.2L696.8 252L697 252.2L697.3 251.7L697.5 252L697.8 251.5L698 251.3L698.3 250.9L698.5 250.6L698.5 250.6L698.8 251.1L699 251.4L699.3 251.8L699.5 251.8L699.8 252.1L700 252L700.3 252.2L700.5 252.2L700.8 252.2L701 251.8L701.3 251.8L701.5 252L701.8 252.4L702 252.2L702.3 252.2L702.5 252.4L702.8 252.2L703 251.9L703.3 252.2L703.5 252.4L703.8 252.4L704 251.9L704.3 252.5L704.5 252.2L704.8 252L705 252.1L705.3 252.4L705.5 252.3L705.8 252L706 252.2L706.3 251.8L706.5 252.2L706.8 251.7L707 252.1L707.3 251.9L707.5 251.8L707.8 251.7L708 252.3L708.3 251.8L708.5 252L708.8 251.8L709 252L709.3 252.2L709.5 251.9L709.8 252.1L710 251.9L710.3 251.8L710.5 252.2L710.8 251.9L711 252.1L711.3 252.3L711.5 252.1L711.8 251.9L712 252.1L712.3 252.2L712.5 251.9L712.8 252.4L713 252L713.3 251.9L713.5 252.2L713.8 252.2L714 252L714.3 252.2L714.5 252L714.8 252.4L715 252.1L715.3 252.1L715.5 251.9L715.8 252.3L716 251.9L716.3 252L716.5 252.1L716.8 251.8L717 251.7" fill="none" stroke="#111" stroke-width="1.45" stroke-linejoin="round"/>
<rect x="395.8" y="2.5" width="321.4" height="262.1" fill="none" stroke="#141414" stroke-width="1.35" stroke-linejoin="round"/>
<path d="M395.8 264.6 V267.6M417.2 264.6 V269.6M438.7 264.6 V267.6M460.1 264.6 V269.6M481.5 264.6 V267.6M502.9 264.6 V269.6M524.4 264.6 V267.6M545.8 264.6 V269.6M567.2 264.6 V267.6M588.6 264.6 V269.6M610.1 264.6 V267.6M631.5 264.6 V269.6M652.9 264.6 V267.6M674.3 264.6 V269.6M695.8 264.6 V267.6M717.2 264.6 V269.6" stroke="#141414" stroke-width="1.3" fill="none"/>
<text class="sans" transform="translate(53.1 279.8) scale(1.0 1)" font-size="11" fill="#1e1e1e" text-anchor="middle">10</text>
<text class="sans" transform="translate(102.7 279.8) scale(1.0 1)" font-size="11" fill="#1e1e1e" text-anchor="middle">20</text>
<text class="sans" transform="translate(152.4 279.8) scale(1.0 1)" font-size="11" fill="#1e1e1e" text-anchor="middle">30</text>
<text class="sans" transform="translate(202 279.8) scale(1.0 1)" font-size="11" fill="#1e1e1e" text-anchor="middle">40</text>
<text class="sans" transform="translate(251.6 279.8) scale(1.0 1)" font-size="11" fill="#1e1e1e" text-anchor="middle">50</text>
<text class="sans" transform="translate(301.3 279.8) scale(1.0 1)" font-size="11" fill="#1e1e1e" text-anchor="middle">60</text>
<text class="sans" transform="translate(350.9 279.8) scale(1.0 1)" font-size="11" fill="#1e1e1e" text-anchor="middle">70</text>
<text class="sans" transform="translate(40.9 47.2) scale(0.96 1)" font-size="14" fill="#1e1e1e" text-anchor="start" style="stroke:none">GO</text>
<text class="serif" transform="translate(310.6 28.4) scale(1.06 1)" font-size="13.5" fill="#1e1e1e" text-anchor="start">(a)</text>
<text class="serif" transform="translate(210.9 299.8) scale(1.06 1)" font-size="14.2" fill="#1e1e1e" text-anchor="middle">2 Theta (degrees)</text>
<text class="serif" transform="translate(12 127.5) rotate(-90) scale(1 1.0)" font-size="14.6" fill="#1e1e1e" text-anchor="middle">Intensity (a.u)</text>
<text class="serif" transform="translate(417.2 283.8) scale(1.02 1)" font-size="12.4" fill="#1e1e1e" text-anchor="middle">10</text>
<text class="serif" transform="translate(460.1 283.8) scale(1.02 1)" font-size="12.4" fill="#1e1e1e" text-anchor="middle">20</text>
<text class="serif" transform="translate(502.9 283.8) scale(1.02 1)" font-size="12.4" fill="#1e1e1e" text-anchor="middle">30</text>
<text class="serif" transform="translate(545.8 283.8) scale(1.02 1)" font-size="12.4" fill="#1e1e1e" text-anchor="middle">40</text>
<text class="serif" transform="translate(588.6 283.8) scale(1.02 1)" font-size="12.4" fill="#1e1e1e" text-anchor="middle">50</text>
<text class="serif" transform="translate(631.5 283.8) scale(1.02 1)" font-size="12.4" fill="#1e1e1e" text-anchor="middle">60</text>
<text class="serif" transform="translate(674.3 283.8) scale(1.02 1)" font-size="12.4" fill="#1e1e1e" text-anchor="middle">70</text>
<text class="serif" transform="translate(717.2 283.8) scale(1.02 1)" font-size="12.4" fill="#1e1e1e" text-anchor="middle">80</text>
<text class="serif" transform="translate(559 298.6) scale(1.045 1)" font-size="14.2" fill="#1e1e1e" text-anchor="middle">2 Theta (degrees)</text>
<text class="serif" transform="translate(388.2 146.6) rotate(-90) scale(1 1.0)" font-size="14.9" fill="#1e1e1e" text-anchor="middle">Intensity (a.u)</text>
<text class="serif" transform="translate(696.4 19) scale(1.06 1)" font-size="14" fill="#1e1e1e" text-anchor="start">(b)</text>
<text class="serif" transform="translate(398.2 53.4) scale(1.06 1)" font-size="14" fill="#1e1e1e" text-anchor="start">MnFe<tspan font-size="8.5" dy="5">2</tspan><tspan dy="-5">O</tspan><tspan font-size="8.5" dy="5">4</tspan></text>
<text class="serif" transform="translate(475.8 55) scale(1.06 1)" font-size="14" fill="#1e1e1e" text-anchor="start">(220)</text>
<text class="serif" transform="translate(513.6 22) scale(1.06 1)" font-size="14" fill="#1e1e1e" text-anchor="start">(311)</text>
<text class="serif" transform="translate(555.6 25.4) scale(1.06 1)" font-size="14" fill="#1e1e1e" text-anchor="start">(400)</text>
<text class="serif" transform="translate(602.4 46.3) scale(1.06 1)" font-size="14" fill="#1e1e1e" text-anchor="start">(511)</text>
<text class="serif" transform="translate(643.2 50.4) scale(1.06 1)" font-size="14" fill="#1e1e1e" text-anchor="start">(440)</text>
<text class="serif" transform="translate(682.4 46.9) scale(1.06 1)" font-size="14" fill="#1e1e1e" text-anchor="start">(620)</text>
<text class="serif" transform="translate(397.4 118.8) scale(1.06 1)" font-size="14" fill="#1e1e1e" text-anchor="start">MG60</text>
<text class="serif" transform="translate(397.9 173.6) scale(1.06 1)" font-size="14" fill="#1e1e1e" text-anchor="start">MG50</text>
<text class="serif" transform="translate(397.4 213.9) scale(1.06 1)" font-size="14" fill="#1e1e1e" text-anchor="start">MG40</text>
<text class="serif" transform="translate(397.7 248.3) scale(1.06 1)" font-size="14" fill="#1e1e1e" text-anchor="start">MG30</text>
</svg>
</body></html>
